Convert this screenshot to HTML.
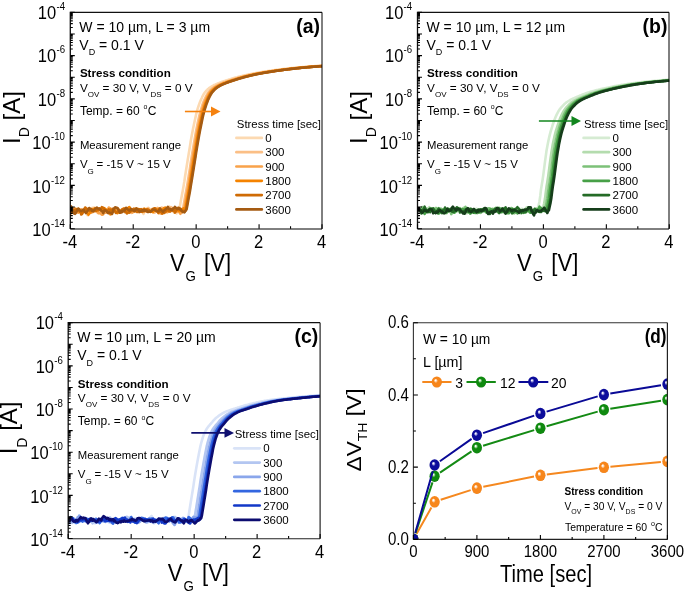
<!DOCTYPE html><html><head><meta charset="utf-8"><style>html,body{margin:0;padding:0;background:#fff}svg{display:block;will-change:transform}text{font-family:"Liberation Sans",sans-serif;fill:#000}</style></head><body>
<svg width="685" height="592" viewBox="0 0 685 592">
<rect width="685" height="592" fill="#fff"/>
<defs>
<radialGradient id="spo" cx="0.5" cy="0.5" r="0.55" fx="0.36" fy="0.34"><stop offset="0" stop-color="#ffffff"/><stop offset="0.08" stop-color="#ffffff" stop-opacity="0.9"/><stop offset="0.36" stop-color="#f7861b"/><stop offset="0.85" stop-color="#f7861b"/><stop offset="1" stop-color="#d86800"/></radialGradient>
<radialGradient id="spg" cx="0.5" cy="0.5" r="0.55" fx="0.36" fy="0.34"><stop offset="0" stop-color="#f0fff0"/><stop offset="0.08" stop-color="#f0fff0" stop-opacity="0.9"/><stop offset="0.36" stop-color="#0f8a0f"/><stop offset="0.85" stop-color="#0f8a0f"/><stop offset="1" stop-color="#066006"/></radialGradient>
<radialGradient id="spbl" cx="0.5" cy="0.5" r="0.55" fx="0.36" fy="0.34"><stop offset="0" stop-color="#f4f4ff"/><stop offset="0.08" stop-color="#f4f4ff" stop-opacity="0.9"/><stop offset="0.36" stop-color="#0c0c9c"/><stop offset="0.85" stop-color="#0c0c9c"/><stop offset="1" stop-color="#06066a"/></radialGradient>
</defs>
<clipPath id="clipa"><rect x="70.3" y="12.3" width="251.7" height="216.4"/></clipPath>
<g clip-path="url(#clipa)" fill="none" stroke-width="2.6" stroke-linejoin="round">
<polyline stroke="#fcd9b1" points="70.3,209.9 71.1,210.8 71.9,209.0 72.7,209.5 73.4,209.6 74.2,209.1 75.0,209.1 75.8,210.2 76.6,210.6 77.4,211.1 78.2,211.0 79.0,210.3 79.7,210.4 80.5,210.7 81.3,211.5 82.1,211.6 82.9,211.5 83.7,209.6 84.5,208.4 85.2,211.0 86.0,212.5 86.8,213.9 87.6,215.2 88.4,212.5 89.2,210.5 90.0,208.3 90.8,208.9 91.5,209.5 92.3,207.8 93.1,209.2 93.9,207.5 94.7,207.6 95.5,211.1 96.3,211.6 97.0,212.1 97.8,212.8 98.6,211.9 99.4,212.1 100.2,213.1 101.0,212.0 101.8,211.3 102.5,211.2 103.3,210.8 104.1,210.1 104.9,209.3 105.7,209.1 106.5,209.4 107.3,209.2 108.1,210.6 108.8,210.0 109.6,210.3 110.4,210.1 111.2,209.6 112.0,211.7 112.8,210.9 113.6,211.8 114.3,211.5 115.1,211.2 115.9,212.0 116.7,211.8 117.5,212.5 118.3,211.4 119.1,209.6 119.9,211.4 120.6,210.7 121.4,209.7 122.2,210.7 123.0,210.0 123.8,209.5 124.6,210.4 125.4,209.3 126.1,208.8 126.9,210.9 127.7,211.3 128.5,212.6 129.3,211.5 130.1,209.9 130.9,211.4 131.7,212.1 132.4,212.0 133.2,211.5 134.0,210.6 134.8,209.4 135.6,209.8 136.4,210.0 137.2,208.6 137.9,208.4 138.7,208.9 139.5,209.6 140.3,209.4 141.1,211.8 141.9,211.8 142.7,211.5 143.5,213.9 144.2,211.4 145.0,211.9 145.8,211.1 146.6,209.9 147.4,209.6 148.2,207.8 149.0,208.3 149.7,209.0 150.5,211.1 151.3,210.5 152.1,211.0 152.9,210.8 153.7,209.3 154.5,211.1 155.2,210.2 156.0,209.5 156.8,209.6 157.6,210.1 158.4,210.5 159.2,211.5 160.0,210.9 160.8,208.8 161.5,210.7 162.3,212.0 163.1,212.1 163.9,211.1 164.7,210.6 165.5,209.4 166.3,209.5 167.0,212.7 167.8,212.2 168.6,211.4 169.4,211.4 170.2,211.0 171.0,210.3 171.8,210.1 172.6,211.4 173.3,211.3 174.1,212.5 174.9,212.3 175.7,212.6 176.5,213.3 177.3,211.0 178.1,211.1 178.8,210.1 179.6,207.8 180.4,203.4 181.2,199.0 182.0,194.7 182.8,190.4 183.6,186.0 184.4,181.2 185.1,176.3 185.9,171.3 186.7,166.3 187.5,161.3 188.3,156.4 189.1,151.5 189.9,146.8 190.6,142.1 191.4,137.6 192.2,133.2 193.0,129.1 193.8,125.2 194.6,121.4 195.4,117.8 196.1,114.5 196.9,111.4 197.7,108.7 198.5,106.2 199.3,103.9 200.1,101.8 200.9,99.9 201.7,98.2 202.4,96.6 203.2,95.1 204.0,93.7 204.8,92.6 205.6,91.6 206.4,90.7 207.2,89.9 207.9,89.1 208.7,88.5 209.5,87.8 210.3,87.3 211.1,86.8 211.9,86.3 212.7,85.8 213.5,85.4 214.2,85.0 215.0,84.7 215.8,84.3 216.6,84.0 217.4,83.6 218.2,83.3 219.0,83.0 219.7,82.7 220.5,82.4 221.3,82.1 222.1,81.8 222.9,81.6 223.7,81.3 224.5,81.1 225.3,80.8 226.0,80.5 226.8,80.3 227.6,80.0 228.4,79.8 229.2,79.5 230.0,79.3 230.8,79.0 231.5,78.8 232.3,78.5 233.1,78.3 233.9,78.1 234.7,77.8 235.5,77.6 236.3,77.4 237.1,77.2 237.8,77.0 238.6,76.8 239.4,76.6 240.2,76.4 241.0,76.2 241.8,76.0 242.6,75.8 243.3,75.6 244.1,75.4 244.9,75.2 245.7,75.1 246.5,74.9 247.3,74.7 248.1,74.5 248.8,74.4 249.6,74.2 250.4,74.1 251.2,73.9 252.0,73.7 252.8,73.6 253.6,73.4 254.4,73.3 255.1,73.2 255.9,73.0 256.7,72.9 257.5,72.7 258.3,72.6 259.1,72.5 259.9,72.3 260.6,72.2 261.4,72.1 262.2,72.0 263.0,71.8 263.8,71.7 264.6,71.6 265.4,71.5 266.2,71.3 266.9,71.2 267.7,71.1 268.5,71.0 269.3,70.9 270.1,70.8 270.9,70.7 271.7,70.5 272.4,70.4 273.2,70.3 274.0,70.2 274.8,70.1 275.6,70.0 276.4,69.9 277.2,69.8 278.0,69.7 278.7,69.6 279.5,69.5 280.3,69.4 281.1,69.3 281.9,69.2 282.7,69.1 283.5,69.0 284.2,68.9 285.0,68.8 285.8,68.7 286.6,68.7 287.4,68.6 288.2,68.5 289.0,68.4 289.8,68.3 290.5,68.2 291.3,68.1 292.1,68.1 292.9,68.0 293.7,67.9 294.5,67.8 295.3,67.8 296.0,67.7 296.8,67.6 297.6,67.5 298.4,67.5 299.2,67.4 300.0,67.3 300.8,67.2 301.5,67.2 302.3,67.1 303.1,67.0 303.9,67.0 304.7,66.9 305.5,66.8 306.3,66.8 307.1,66.7 307.8,66.7 308.6,66.6 309.4,66.5 310.2,66.5 311.0,66.4 311.8,66.4 312.6,66.3 313.3,66.3 314.1,66.2 314.9,66.1 315.7,66.1 316.5,66.0 317.3,65.9 318.1,65.9 318.9,65.8 319.6,65.7 320.4,65.7 321.2,65.6 322.0,65.5"/>
<polyline stroke="#fbbf86" points="70.3,210.4 71.1,210.5 71.9,210.5 72.7,208.5 73.4,210.5 74.2,210.3 75.0,211.3 75.8,212.0 76.6,211.4 77.4,211.9 78.2,211.0 79.0,211.0 79.7,210.0 80.5,210.2 81.3,210.8 82.1,210.6 82.9,210.6 83.7,211.2 84.5,210.3 85.2,210.6 86.0,210.0 86.8,209.1 87.6,209.1 88.4,210.1 89.2,210.3 90.0,210.4 90.8,210.5 91.5,209.1 92.3,210.0 93.1,209.7 93.9,210.1 94.7,210.0 95.5,209.0 96.3,209.8 97.0,209.5 97.8,209.8 98.6,208.9 99.4,209.2 100.2,209.9 101.0,209.5 101.8,211.8 102.5,211.5 103.3,210.8 104.1,211.0 104.9,210.5 105.7,209.4 106.5,209.6 107.3,209.3 108.1,208.8 108.8,208.5 109.6,209.2 110.4,210.4 111.2,210.4 112.0,210.3 112.8,209.3 113.6,209.7 114.3,209.2 115.1,209.4 115.9,209.9 116.7,209.6 117.5,210.2 118.3,211.8 119.1,211.6 119.9,211.3 120.6,211.8 121.4,210.1 122.2,211.2 123.0,211.7 123.8,211.4 124.6,210.6 125.4,210.7 126.1,210.0 126.9,209.0 127.7,210.1 128.5,208.2 129.3,209.3 130.1,211.5 130.9,211.2 131.7,212.8 132.4,212.4 133.2,211.6 134.0,211.4 134.8,210.0 135.6,210.3 136.4,208.9 137.2,209.5 137.9,210.2 138.7,209.7 139.5,210.4 140.3,210.1 141.1,209.8 141.9,210.1 142.7,209.2 143.5,210.1 144.2,210.1 145.0,209.6 145.8,209.2 146.6,209.2 147.4,208.2 148.2,208.3 149.0,209.5 149.7,209.6 150.5,210.4 151.3,210.5 152.1,211.1 152.9,211.4 153.7,212.2 154.5,212.7 155.2,211.2 156.0,209.5 156.8,208.5 157.6,207.8 158.4,208.8 159.2,209.7 160.0,209.7 160.8,208.5 161.5,207.6 162.3,207.8 163.1,208.4 163.9,210.2 164.7,211.3 165.5,211.3 166.3,211.2 167.0,209.6 167.8,209.0 168.6,208.0 169.4,206.9 170.2,208.1 171.0,207.0 171.8,207.5 172.6,209.0 173.3,208.8 174.1,209.9 174.9,210.6 175.7,210.4 176.5,210.5 177.3,210.2 178.1,210.6 178.8,210.5 179.6,211.7 180.4,211.8 181.2,210.7 182.0,210.6 182.8,209.4 183.6,205.4 184.4,201.0 185.1,196.6 185.9,192.4 186.7,188.0 187.5,183.4 188.3,178.5 189.1,173.5 189.9,168.6 190.6,163.6 191.4,158.6 192.2,153.7 193.0,149.0 193.8,144.2 194.6,139.6 195.4,135.1 196.1,130.9 196.9,127.0 197.7,123.1 198.5,119.4 199.3,115.9 200.1,112.7 200.9,109.9 201.7,107.3 202.4,104.9 203.2,102.7 204.0,100.7 204.8,99.0 205.6,97.3 206.4,95.7 207.2,94.3 207.9,93.1 208.7,92.0 209.5,91.1 210.3,90.2 211.1,89.5 211.9,88.8 212.7,88.1 213.5,87.5 214.2,87.0 215.0,86.5 215.8,86.0 216.6,85.6 217.4,85.2 218.2,84.8 219.0,84.5 219.7,84.1 220.5,83.8 221.3,83.5 222.1,83.1 222.9,82.8 223.7,82.5 224.5,82.3 225.3,82.0 226.0,81.7 226.8,81.4 227.6,81.2 228.4,80.9 229.2,80.7 230.0,80.4 230.8,80.2 231.5,79.9 232.3,79.6 233.1,79.4 233.9,79.1 234.7,78.9 235.5,78.7 236.3,78.4 237.1,78.2 237.8,77.9 238.6,77.7 239.4,77.5 240.2,77.3 241.0,77.1 241.8,76.9 242.6,76.7 243.3,76.5 244.1,76.3 244.9,76.1 245.7,75.9 246.5,75.7 247.3,75.5 248.1,75.3 248.8,75.1 249.6,75.0 250.4,74.8 251.2,74.6 252.0,74.4 252.8,74.3 253.6,74.1 254.4,74.0 255.1,73.8 255.9,73.7 256.7,73.5 257.5,73.4 258.3,73.2 259.1,73.1 259.9,72.9 260.6,72.8 261.4,72.7 262.2,72.5 263.0,72.4 263.8,72.3 264.6,72.1 265.4,72.0 266.2,71.9 266.9,71.8 267.7,71.6 268.5,71.5 269.3,71.4 270.1,71.3 270.9,71.2 271.7,71.0 272.4,70.9 273.2,70.8 274.0,70.7 274.8,70.6 275.6,70.5 276.4,70.4 277.2,70.3 278.0,70.2 278.7,70.1 279.5,70.0 280.3,69.9 281.1,69.7 281.9,69.6 282.7,69.5 283.5,69.4 284.2,69.3 285.0,69.3 285.8,69.2 286.6,69.1 287.4,69.0 288.2,68.9 289.0,68.8 289.8,68.7 290.5,68.6 291.3,68.5 292.1,68.4 292.9,68.3 293.7,68.3 294.5,68.2 295.3,68.1 296.0,68.0 296.8,67.9 297.6,67.9 298.4,67.8 299.2,67.7 300.0,67.6 300.8,67.6 301.5,67.5 302.3,67.4 303.1,67.3 303.9,67.3 304.7,67.2 305.5,67.1 306.3,67.1 307.1,67.0 307.8,66.9 308.6,66.9 309.4,66.8 310.2,66.7 311.0,66.7 311.8,66.6 312.6,66.6 313.3,66.5 314.1,66.4 314.9,66.4 315.7,66.3 316.5,66.3 317.3,66.2 318.1,66.2 318.9,66.1 319.6,66.0 320.4,66.0 321.2,65.9 322.0,65.8"/>
<polyline stroke="#f9a24a" points="70.3,212.3 71.1,213.5 71.9,212.0 72.7,210.9 73.4,210.3 74.2,208.2 75.0,208.3 75.8,210.9 76.6,210.7 77.4,211.8 78.2,212.7 79.0,210.7 79.7,210.8 80.5,210.9 81.3,209.4 82.1,210.5 82.9,210.2 83.7,210.5 84.5,210.7 85.2,210.9 86.0,210.3 86.8,209.5 87.6,208.9 88.4,208.7 89.2,210.0 90.0,209.7 90.8,212.5 91.5,212.6 92.3,211.6 93.1,211.9 93.9,209.4 94.7,208.9 95.5,209.2 96.3,210.0 97.0,211.5 97.8,212.5 98.6,213.2 99.4,213.1 100.2,212.6 101.0,213.8 101.8,214.8 102.5,214.8 103.3,214.2 104.1,212.2 104.9,211.4 105.7,212.6 106.5,211.5 107.3,211.8 108.1,210.1 108.8,207.5 109.6,208.7 110.4,208.3 111.2,209.4 112.0,211.2 112.8,211.2 113.6,210.8 114.3,210.5 115.1,209.1 115.9,208.1 116.7,208.4 117.5,208.1 118.3,209.2 119.1,211.0 119.9,211.2 120.6,212.5 121.4,211.3 122.2,210.1 123.0,208.8 123.8,208.2 124.6,208.7 125.4,209.7 126.1,211.3 126.9,211.0 127.7,211.0 128.5,211.3 129.3,210.2 130.1,211.6 130.9,211.9 131.7,211.6 132.4,212.4 133.2,211.9 134.0,211.2 134.8,210.4 135.6,209.2 136.4,208.4 137.2,209.9 137.9,210.5 138.7,212.1 139.5,211.9 140.3,210.3 141.1,209.8 141.9,209.4 142.7,210.0 143.5,210.6 144.2,211.8 145.0,211.3 145.8,210.9 146.6,211.4 147.4,210.8 148.2,210.7 149.0,211.4 149.7,211.6 150.5,210.8 151.3,210.8 152.1,209.1 152.9,209.2 153.7,210.9 154.5,210.5 155.2,210.9 156.0,210.8 156.8,210.6 157.6,211.2 158.4,213.1 159.2,212.8 160.0,213.3 160.8,213.4 161.5,213.7 162.3,213.6 163.1,211.1 163.9,211.1 164.7,209.2 165.5,209.5 166.3,211.1 167.0,211.9 167.8,211.7 168.6,211.4 169.4,209.7 170.2,209.5 171.0,210.3 171.8,210.2 172.6,210.4 173.3,208.3 174.1,208.6 174.9,209.5 175.7,211.6 176.5,211.9 177.3,211.5 178.1,211.2 178.8,210.1 179.6,212.7 180.4,213.8 181.2,212.7 182.0,212.4 182.8,210.6 183.6,210.1 184.4,208.1 185.1,203.7 185.9,199.4 186.7,195.0 187.5,190.8 188.3,186.3 189.1,181.6 189.9,176.7 190.6,171.7 191.4,166.7 192.2,161.7 193.0,156.8 193.8,151.9 194.6,147.2 195.4,142.5 196.1,137.9 196.9,133.5 197.7,129.4 198.5,125.5 199.3,121.7 200.1,118.1 200.9,114.7 201.7,111.6 202.4,108.9 203.2,106.3 204.0,104.0 204.8,101.9 205.6,100.0 206.4,98.3 207.2,96.7 207.9,95.2 208.7,93.8 209.5,92.6 210.3,91.6 211.1,90.7 211.9,89.9 212.7,89.2 213.5,88.5 214.2,87.9 215.0,87.3 215.8,86.8 216.6,86.3 217.4,85.9 218.2,85.5 219.0,85.1 219.7,84.7 220.5,84.3 221.3,84.0 222.1,83.7 222.9,83.3 223.7,83.0 224.5,82.7 225.3,82.4 226.0,82.1 226.8,81.9 227.6,81.6 228.4,81.3 229.2,81.1 230.0,80.8 230.8,80.6 231.5,80.3 232.3,80.1 233.1,79.8 233.9,79.6 234.7,79.3 235.5,79.1 236.3,78.8 237.1,78.6 237.8,78.3 238.6,78.1 239.4,77.9 240.2,77.6 241.0,77.4 241.8,77.2 242.6,77.0 243.3,76.8 244.1,76.6 244.9,76.4 245.7,76.2 246.5,76.0 247.3,75.8 248.1,75.6 248.8,75.4 249.6,75.3 250.4,75.1 251.2,74.9 252.0,74.7 252.8,74.6 253.6,74.4 254.4,74.2 255.1,74.1 255.9,73.9 256.7,73.8 257.5,73.6 258.3,73.5 259.1,73.3 259.9,73.2 260.6,73.0 261.4,72.9 262.2,72.7 263.0,72.6 263.8,72.5 264.6,72.3 265.4,72.2 266.2,72.1 266.9,72.0 267.7,71.8 268.5,71.7 269.3,71.6 270.1,71.5 270.9,71.4 271.7,71.2 272.4,71.1 273.2,71.0 274.0,70.9 274.8,70.8 275.6,70.7 276.4,70.6 277.2,70.4 278.0,70.3 278.7,70.2 279.5,70.1 280.3,70.0 281.1,69.9 281.9,69.8 282.7,69.7 283.5,69.6 284.2,69.5 285.0,69.4 285.8,69.3 286.6,69.2 287.4,69.1 288.2,69.0 289.0,68.9 289.8,68.8 290.5,68.7 291.3,68.7 292.1,68.6 292.9,68.5 293.7,68.4 294.5,68.3 295.3,68.2 296.0,68.1 296.8,68.1 297.6,68.0 298.4,67.9 299.2,67.8 300.0,67.8 300.8,67.7 301.5,67.6 302.3,67.5 303.1,67.5 303.9,67.4 304.7,67.3 305.5,67.2 306.3,67.2 307.1,67.1 307.8,67.0 308.6,67.0 309.4,66.9 310.2,66.8 311.0,66.8 311.8,66.7 312.6,66.7 313.3,66.6 314.1,66.5 314.9,66.5 315.7,66.4 316.5,66.4 317.3,66.3 318.1,66.3 318.9,66.2 319.6,66.1 320.4,66.1 321.2,66.0 322.0,65.9"/>
<polyline stroke="#f58300" points="70.3,207.9 71.1,209.6 71.9,210.6 72.7,211.2 73.4,212.7 74.2,212.6 75.0,212.6 75.8,212.2 76.6,210.3 77.4,209.7 78.2,209.4 79.0,209.0 79.7,211.0 80.5,212.4 81.3,211.2 82.1,212.6 82.9,211.0 83.7,209.7 84.5,211.5 85.2,210.2 86.0,211.0 86.8,212.8 87.6,213.1 88.4,214.8 89.2,213.8 90.0,212.7 90.8,211.5 91.5,211.1 92.3,209.3 93.1,209.1 93.9,209.4 94.7,208.3 95.5,210.3 96.3,210.7 97.0,210.6 97.8,210.3 98.6,209.6 99.4,208.5 100.2,209.0 101.0,210.2 101.8,209.2 102.5,210.0 103.3,209.3 104.1,208.2 104.9,208.6 105.7,209.4 106.5,210.1 107.3,210.9 108.1,212.2 108.8,212.9 109.6,212.6 110.4,214.4 111.2,213.9 112.0,211.9 112.8,211.4 113.6,210.2 114.3,209.7 115.1,210.7 115.9,212.0 116.7,211.8 117.5,213.1 118.3,212.4 119.1,210.9 119.9,211.7 120.6,211.5 121.4,211.0 122.2,211.4 123.0,209.6 123.8,210.2 124.6,210.2 125.4,211.5 126.1,211.7 126.9,209.6 127.7,209.0 128.5,207.5 129.3,207.0 130.1,208.4 130.9,210.1 131.7,209.6 132.4,210.2 133.2,209.9 134.0,210.6 134.8,211.3 135.6,210.8 136.4,211.3 137.2,210.7 137.9,209.7 138.7,210.0 139.5,209.6 140.3,210.1 141.1,211.6 141.9,211.9 142.7,210.8 143.5,210.4 144.2,208.7 145.0,209.2 145.8,210.4 146.6,209.4 147.4,210.8 148.2,210.7 149.0,210.6 149.7,210.8 150.5,211.9 151.3,211.5 152.1,211.5 152.9,212.1 153.7,210.3 154.5,210.6 155.2,210.7 156.0,210.4 156.8,210.4 157.6,210.2 158.4,208.9 159.2,209.5 160.0,209.1 160.8,209.6 161.5,210.8 162.3,209.9 163.1,209.3 163.9,208.1 164.7,208.3 165.5,207.6 166.3,209.2 167.0,210.4 167.8,209.8 168.6,210.6 169.4,209.8 170.2,209.6 171.0,209.7 171.8,209.3 172.6,209.8 173.3,209.4 174.1,210.2 174.9,210.0 175.7,210.1 176.5,209.7 177.3,209.5 178.1,210.1 178.8,210.9 179.6,211.2 180.4,210.4 181.2,210.4 182.0,209.0 182.8,208.9 183.6,208.4 184.4,208.6 185.1,210.4 185.9,206.0 186.7,201.6 187.5,197.3 188.3,193.0 189.1,188.6 189.9,184.1 190.6,179.3 191.4,174.3 192.2,169.3 193.0,164.3 193.8,159.3 194.6,154.4 195.4,149.6 196.1,144.9 196.9,140.3 197.7,135.8 198.5,131.5 199.3,127.5 200.1,123.7 200.9,120.0 201.7,116.4 202.4,113.2 203.2,110.3 204.0,107.6 204.8,105.2 205.6,103.0 206.4,101.0 207.2,99.2 207.9,97.5 208.7,96.0 209.5,94.5 210.3,93.2 211.1,92.1 211.9,91.2 212.7,90.3 213.5,89.6 214.2,88.9 215.0,88.2 215.8,87.6 216.6,87.1 217.4,86.6 218.2,86.1 219.0,85.7 219.7,85.3 220.5,84.9 221.3,84.5 222.1,84.2 222.9,83.8 223.7,83.5 224.5,83.2 225.3,82.9 226.0,82.6 226.8,82.3 227.6,82.0 228.4,81.7 229.2,81.5 230.0,81.2 230.8,81.0 231.5,80.7 232.3,80.4 233.1,80.2 233.9,79.9 234.7,79.7 235.5,79.4 236.3,79.2 237.1,78.9 237.8,78.7 238.6,78.4 239.4,78.2 240.2,78.0 241.0,77.7 241.8,77.5 242.6,77.3 243.3,77.1 244.1,76.9 244.9,76.7 245.7,76.5 246.5,76.3 247.3,76.1 248.1,75.9 248.8,75.7 249.6,75.5 250.4,75.3 251.2,75.2 252.0,75.0 252.8,74.8 253.6,74.6 254.4,74.5 255.1,74.3 255.9,74.1 256.7,74.0 257.5,73.8 258.3,73.7 259.1,73.5 259.9,73.4 260.6,73.2 261.4,73.1 262.2,73.0 263.0,72.8 263.8,72.7 264.6,72.5 265.4,72.4 266.2,72.3 266.9,72.2 267.7,72.0 268.5,71.9 269.3,71.8 270.1,71.7 270.9,71.5 271.7,71.4 272.4,71.3 273.2,71.2 274.0,71.1 274.8,70.9 275.6,70.8 276.4,70.7 277.2,70.6 278.0,70.5 278.7,70.4 279.5,70.3 280.3,70.2 281.1,70.1 281.9,70.0 282.7,69.9 283.5,69.8 284.2,69.7 285.0,69.6 285.8,69.5 286.6,69.4 287.4,69.3 288.2,69.2 289.0,69.1 289.8,69.0 290.5,68.9 291.3,68.8 292.1,68.7 292.9,68.6 293.7,68.5 294.5,68.4 295.3,68.4 296.0,68.3 296.8,68.2 297.6,68.1 298.4,68.0 299.2,68.0 300.0,67.9 300.8,67.8 301.5,67.7 302.3,67.6 303.1,67.6 303.9,67.5 304.7,67.4 305.5,67.4 306.3,67.3 307.1,67.2 307.8,67.1 308.6,67.1 309.4,67.0 310.2,66.9 311.0,66.9 311.8,66.8 312.6,66.8 313.3,66.7 314.1,66.6 314.9,66.6 315.7,66.5 316.5,66.5 317.3,66.4 318.1,66.3 318.9,66.3 319.6,66.2 320.4,66.2 321.2,66.1 322.0,66.0"/>
<polyline stroke="#cf6b04" points="70.3,210.0 71.1,210.3 71.9,211.7 72.7,212.0 73.4,211.9 74.2,211.3 75.0,209.8 75.8,209.5 76.6,209.1 77.4,209.8 78.2,208.7 79.0,210.3 79.7,211.7 80.5,212.0 81.3,214.5 82.1,213.9 82.9,212.3 83.7,210.9 84.5,209.3 85.2,207.5 86.0,208.2 86.8,209.3 87.6,209.2 88.4,210.4 89.2,210.1 90.0,210.7 90.8,210.2 91.5,210.5 92.3,210.4 93.1,210.4 93.9,211.3 94.7,211.0 95.5,210.9 96.3,210.7 97.0,209.4 97.8,209.1 98.6,210.0 99.4,208.5 100.2,209.5 101.0,209.0 101.8,207.2 102.5,207.5 103.3,207.9 104.1,208.9 104.9,210.0 105.7,210.4 106.5,210.6 107.3,210.7 108.1,210.7 108.8,209.3 109.6,210.5 110.4,209.6 111.2,210.2 112.0,211.2 112.8,208.9 113.6,209.3 114.3,209.9 115.1,211.3 115.9,213.0 116.7,212.3 117.5,211.8 118.3,211.2 119.1,210.2 119.9,211.8 120.6,211.5 121.4,210.3 122.2,209.4 123.0,209.5 123.8,208.9 124.6,210.2 125.4,212.2 126.1,211.9 126.9,213.5 127.7,213.0 128.5,212.4 129.3,212.6 130.1,212.1 130.9,210.9 131.7,210.7 132.4,209.4 133.2,209.2 134.0,208.7 134.8,209.5 135.6,209.1 136.4,209.9 137.2,212.0 137.9,210.9 138.7,209.5 139.5,209.2 140.3,210.0 141.1,209.1 141.9,211.7 142.7,211.4 143.5,210.2 144.2,211.0 145.0,210.5 145.8,210.2 146.6,209.9 147.4,209.4 148.2,209.6 149.0,210.3 149.7,211.2 150.5,211.4 151.3,211.1 152.1,210.3 152.9,209.2 153.7,208.5 154.5,208.4 155.2,208.3 156.0,209.4 156.8,211.2 157.6,211.5 158.4,212.8 159.2,211.5 160.0,211.7 160.8,211.5 161.5,212.3 162.3,213.4 163.1,212.8 163.9,213.0 164.7,212.6 165.5,211.8 166.3,210.9 167.0,210.3 167.8,209.6 168.6,210.1 169.4,211.5 170.2,211.5 171.0,210.1 171.8,210.1 172.6,210.4 173.3,210.7 174.1,211.2 174.9,212.6 175.7,211.4 176.5,210.1 177.3,210.0 178.1,207.9 178.8,207.8 179.6,208.5 180.4,209.6 181.2,210.5 182.0,210.5 182.8,211.6 183.6,210.9 184.4,211.6 185.1,211.3 185.9,210.1 186.7,205.8 187.5,201.4 188.3,197.0 189.1,192.7 189.9,188.4 190.6,183.8 191.4,179.0 192.2,174.0 193.0,169.0 193.8,164.1 194.6,159.1 195.4,154.2 196.1,149.4 196.9,144.7 197.7,140.0 198.5,135.5 199.3,131.3 200.1,127.3 200.9,123.5 201.7,119.8 202.4,116.3 203.2,113.0 204.0,110.1 204.8,107.5 205.6,105.1 206.4,102.9 207.2,100.9 207.9,99.1 208.7,97.4 209.5,95.9 210.3,94.4 211.1,93.2 211.9,92.1 212.7,91.2 213.5,90.3 214.2,89.5 215.0,88.8 215.8,88.2 216.6,87.6 217.4,87.0 218.2,86.5 219.0,86.1 219.7,85.6 220.5,85.2 221.3,84.9 222.1,84.5 222.9,84.2 223.7,83.8 224.5,83.5 225.3,83.2 226.0,82.9 226.8,82.6 227.6,82.3 228.4,82.0 229.2,81.7 230.0,81.5 230.8,81.2 231.5,80.9 232.3,80.7 233.1,80.4 233.9,80.2 234.7,79.9 235.5,79.7 236.3,79.4 237.1,79.2 237.8,78.9 238.6,78.7 239.4,78.4 240.2,78.2 241.0,78.0 241.8,77.7 242.6,77.5 243.3,77.3 244.1,77.1 244.9,76.9 245.7,76.7 246.5,76.5 247.3,76.3 248.1,76.1 248.8,75.9 249.6,75.7 250.4,75.5 251.2,75.3 252.0,75.2 252.8,75.0 253.6,74.8 254.4,74.6 255.1,74.5 255.9,74.3 256.7,74.1 257.5,74.0 258.3,73.8 259.1,73.7 259.9,73.5 260.6,73.4 261.4,73.2 262.2,73.1 263.0,72.9 263.8,72.8 264.6,72.7 265.4,72.5 266.2,72.4 266.9,72.3 267.7,72.1 268.5,72.0 269.3,71.9 270.1,71.8 270.9,71.6 271.7,71.5 272.4,71.4 273.2,71.3 274.0,71.2 274.8,71.1 275.6,70.9 276.4,70.8 277.2,70.7 278.0,70.6 278.7,70.5 279.5,70.4 280.3,70.3 281.1,70.2 281.9,70.1 282.7,70.0 283.5,69.9 284.2,69.8 285.0,69.7 285.8,69.6 286.6,69.5 287.4,69.4 288.2,69.3 289.0,69.2 289.8,69.1 290.5,69.0 291.3,68.9 292.1,68.8 292.9,68.7 293.7,68.6 294.5,68.5 295.3,68.4 296.0,68.4 296.8,68.3 297.6,68.2 298.4,68.1 299.2,68.0 300.0,67.9 300.8,67.9 301.5,67.8 302.3,67.7 303.1,67.6 303.9,67.6 304.7,67.5 305.5,67.4 306.3,67.4 307.1,67.3 307.8,67.2 308.6,67.1 309.4,67.1 310.2,67.0 311.0,66.9 311.8,66.9 312.6,66.8 313.3,66.8 314.1,66.7 314.9,66.6 315.7,66.6 316.5,66.5 317.3,66.5 318.1,66.4 318.9,66.3 319.6,66.3 320.4,66.2 321.2,66.2 322.0,66.1"/>
<polyline stroke="#a55b12" points="70.3,207.8 71.1,206.4 71.9,207.6 72.7,210.4 73.4,211.5 74.2,213.6 75.0,213.9 75.8,213.0 76.6,211.4 77.4,209.9 78.2,208.9 79.0,209.0 79.7,210.3 80.5,210.7 81.3,211.0 82.1,210.5 82.9,209.8 83.7,209.9 84.5,211.3 85.2,212.2 86.0,213.0 86.8,211.8 87.6,210.8 88.4,209.6 89.2,208.0 90.0,208.9 90.8,208.9 91.5,209.6 92.3,211.2 93.1,211.2 93.9,210.2 94.7,209.6 95.5,208.4 96.3,208.2 97.0,207.6 97.8,208.4 98.6,208.8 99.4,208.8 100.2,209.3 101.0,210.5 101.8,211.0 102.5,211.6 103.3,213.1 104.1,210.9 104.9,210.4 105.7,210.5 106.5,211.0 107.3,212.4 108.1,213.2 108.8,212.6 109.6,212.4 110.4,212.9 111.2,213.2 112.0,213.9 112.8,211.9 113.6,208.9 114.3,208.2 115.1,207.2 115.9,207.4 116.7,208.2 117.5,208.0 118.3,209.5 119.1,210.7 119.9,212.8 120.6,212.6 121.4,211.2 122.2,212.1 123.0,210.9 123.8,210.9 124.6,210.6 125.4,208.4 126.1,207.8 126.9,208.5 127.7,209.6 128.5,209.7 129.3,210.6 130.1,210.2 130.9,208.9 131.7,209.6 132.4,210.1 133.2,210.3 134.0,210.9 134.8,211.1 135.6,209.4 136.4,208.4 137.2,209.2 137.9,209.4 138.7,210.3 139.5,212.0 140.3,211.3 141.1,211.0 141.9,210.5 142.7,210.0 143.5,210.9 144.2,209.5 145.0,210.7 145.8,210.6 146.6,210.5 147.4,212.0 148.2,212.0 149.0,211.6 149.7,211.6 150.5,211.7 151.3,210.8 152.1,210.3 152.9,209.6 153.7,209.8 154.5,209.7 155.2,210.3 156.0,210.7 156.8,211.3 157.6,211.2 158.4,211.2 159.2,210.0 160.0,208.4 160.8,209.6 161.5,210.4 162.3,210.8 163.1,211.8 163.9,210.6 164.7,209.9 165.5,209.2 166.3,208.6 167.0,208.0 167.8,206.9 168.6,208.7 169.4,208.9 170.2,208.9 171.0,209.8 171.8,210.1 172.6,209.1 173.3,208.3 174.1,208.4 174.9,206.8 175.7,207.7 176.5,208.5 177.3,208.7 178.1,208.7 178.8,208.2 179.6,209.2 180.4,208.9 181.2,210.2 182.0,211.3 182.8,211.9 183.6,212.1 184.4,212.4 185.1,211.3 185.9,210.3 186.7,208.8 187.5,204.5 188.3,200.1 189.1,195.7 189.9,191.5 190.6,187.1 191.4,182.4 192.2,177.5 193.0,172.5 193.8,167.5 194.6,162.6 195.4,157.6 196.1,152.7 196.9,148.0 197.7,143.3 198.5,138.7 199.3,134.2 200.1,130.1 200.9,126.2 201.7,122.3 202.4,118.7 203.2,115.3 204.0,112.1 204.8,109.3 205.6,106.8 206.4,104.4 207.2,102.3 207.9,100.3 208.7,98.6 209.5,97.0 210.3,95.4 211.1,94.0 211.9,92.8 212.7,91.8 213.5,90.9 214.2,90.1 215.0,89.3 215.8,88.6 216.6,88.0 217.4,87.4 218.2,86.9 219.0,86.4 219.7,85.9 220.5,85.5 221.3,85.1 222.1,84.8 222.9,84.4 223.7,84.1 224.5,83.7 225.3,83.4 226.0,83.1 226.8,82.8 227.6,82.5 228.4,82.2 229.2,81.9 230.0,81.6 230.8,81.4 231.5,81.1 232.3,80.9 233.1,80.6 233.9,80.4 234.7,80.1 235.5,79.8 236.3,79.6 237.1,79.3 237.8,79.1 238.6,78.8 239.4,78.6 240.2,78.4 241.0,78.1 241.8,77.9 242.6,77.7 243.3,77.4 244.1,77.2 244.9,77.0 245.7,76.8 246.5,76.6 247.3,76.4 248.1,76.2 248.8,76.0 249.6,75.8 250.4,75.6 251.2,75.5 252.0,75.3 252.8,75.1 253.6,74.9 254.4,74.8 255.1,74.6 255.9,74.4 256.7,74.3 257.5,74.1 258.3,73.9 259.1,73.8 259.9,73.6 260.6,73.5 261.4,73.3 262.2,73.2 263.0,73.0 263.8,72.9 264.6,72.8 265.4,72.6 266.2,72.5 266.9,72.4 267.7,72.2 268.5,72.1 269.3,72.0 270.1,71.9 270.9,71.7 271.7,71.6 272.4,71.5 273.2,71.4 274.0,71.3 274.8,71.1 275.6,71.0 276.4,70.9 277.2,70.8 278.0,70.7 278.7,70.6 279.5,70.5 280.3,70.4 281.1,70.3 281.9,70.1 282.7,70.0 283.5,69.9 284.2,69.8 285.0,69.7 285.8,69.6 286.6,69.5 287.4,69.4 288.2,69.3 289.0,69.2 289.8,69.1 290.5,69.0 291.3,68.9 292.1,68.9 292.9,68.8 293.7,68.7 294.5,68.6 295.3,68.5 296.0,68.4 296.8,68.3 297.6,68.2 298.4,68.2 299.2,68.1 300.0,68.0 300.8,67.9 301.5,67.8 302.3,67.8 303.1,67.7 303.9,67.6 304.7,67.5 305.5,67.5 306.3,67.4 307.1,67.3 307.8,67.3 308.6,67.2 309.4,67.1 310.2,67.1 311.0,67.0 311.8,66.9 312.6,66.9 313.3,66.8 314.1,66.7 314.9,66.7 315.7,66.6 316.5,66.6 317.3,66.5 318.1,66.4 318.9,66.4 319.6,66.3 320.4,66.3 321.2,66.2 322.0,66.2"/>
</g>
<path d="M70.3 229V12.3H322" stroke="#111" stroke-width="1.3" fill="none"/>
<path d="M70.3 229H322" stroke="#000" stroke-width="1.0" fill="none"/>
<path d="M322 12.3V229" stroke="#000" stroke-width="1.0" fill="none"/>
<path d="M70.3 228.7h4.5 M70.3 222.19h2.5 M70.3 218.38h2.5 M70.3 215.67h2.5 M70.3 213.57h2.5 M70.3 211.86h2.5 M70.3 210.41h2.5 M70.3 209.16h2.5 M70.3 208.05h2.5 M70.3 207.06h4.5 M70.3 200.55h2.5 M70.3 196.74h2.5 M70.3 194.03h2.5 M70.3 191.93h2.5 M70.3 190.22h2.5 M70.3 188.77h2.5 M70.3 187.52h2.5 M70.3 186.41h2.5 M70.3 185.42h4.5 M70.3 178.91h2.5 M70.3 175.1h2.5 M70.3 172.39h2.5 M70.3 170.29h2.5 M70.3 168.58h2.5 M70.3 167.13h2.5 M70.3 165.88h2.5 M70.3 164.77h2.5 M70.3 163.78h4.5 M70.3 157.27h2.5 M70.3 153.46h2.5 M70.3 150.75h2.5 M70.3 148.65h2.5 M70.3 146.94h2.5 M70.3 145.49h2.5 M70.3 144.24h2.5 M70.3 143.13h2.5 M70.3 142.14h4.5 M70.3 135.63h2.5 M70.3 131.82h2.5 M70.3 129.11h2.5 M70.3 127.01h2.5 M70.3 125.3h2.5 M70.3 123.85h2.5 M70.3 122.6h2.5 M70.3 121.49h2.5 M70.3 120.5h4.5 M70.3 113.99h2.5 M70.3 110.18h2.5 M70.3 107.47h2.5 M70.3 105.37h2.5 M70.3 103.66h2.5 M70.3 102.21h2.5 M70.3 100.96h2.5 M70.3 99.85h2.5 M70.3 98.86h4.5 M70.3 92.35h2.5 M70.3 88.54h2.5 M70.3 85.83h2.5 M70.3 83.73h2.5 M70.3 82.02h2.5 M70.3 80.57h2.5 M70.3 79.32h2.5 M70.3 78.21h2.5 M70.3 77.22h4.5 M70.3 70.71h2.5 M70.3 66.9h2.5 M70.3 64.19h2.5 M70.3 62.09h2.5 M70.3 60.38h2.5 M70.3 58.93h2.5 M70.3 57.68h2.5 M70.3 56.57h2.5 M70.3 55.58h4.5 M70.3 49.07h2.5 M70.3 45.26h2.5 M70.3 42.55h2.5 M70.3 40.45h2.5 M70.3 38.74h2.5 M70.3 37.29h2.5 M70.3 36.04h2.5 M70.3 34.93h2.5 M70.3 33.94h4.5 M70.3 27.43h2.5 M70.3 23.62h2.5 M70.3 20.91h2.5 M70.3 18.81h2.5 M70.3 17.1h2.5 M70.3 15.65h2.5 M70.3 14.4h2.5 M70.3 13.29h2.5 M70.3 12.3h4.5 M70.3 228.7v-4.5 M101.76 228.7v-2.5 M133.22 228.7v-4.5 M164.69 228.7v-2.5 M196.15 228.7v-4.5 M227.61 228.7v-2.5 M259.07 228.7v-4.5 M290.54 228.7v-2.5 M322 228.7v-4.5" stroke="#000" stroke-width="1.1" fill="none"/>
<text transform="translate(65,19) scale(0.92,1)" text-anchor="end" font-size="18">10<tspan font-size="10.5" dy="-9" dx="0.3">-4</tspan></text>
<text transform="translate(65,62.48) scale(0.92,1)" text-anchor="end" font-size="18">10<tspan font-size="10.5" dy="-9" dx="0.3">-6</tspan></text>
<text transform="translate(65,105.96) scale(0.92,1)" text-anchor="end" font-size="18">10<tspan font-size="10.5" dy="-9" dx="0.3">-8</tspan></text>
<text transform="translate(65,149.44) scale(0.92,1)" text-anchor="end" font-size="18">10<tspan font-size="10.5" dy="-9" dx="0.3">-10</tspan></text>
<text transform="translate(65,192.92) scale(0.92,1)" text-anchor="end" font-size="18">10<tspan font-size="10.5" dy="-9" dx="0.3">-12</tspan></text>
<text transform="translate(65,236.4) scale(0.92,1)" text-anchor="end" font-size="18">10<tspan font-size="10.5" dy="-9" dx="0.3">-14</tspan></text>
<text transform="translate(69.9,247.7) scale(0.92,1)" text-anchor="middle" font-size="18">-4</text>
<text transform="translate(132.82,247.7) scale(0.92,1)" text-anchor="middle" font-size="18">-2</text>
<text transform="translate(195.75,247.7) scale(0.92,1)" text-anchor="middle" font-size="18">0</text>
<text transform="translate(258.68,247.7) scale(0.92,1)" text-anchor="middle" font-size="18">2</text>
<text transform="translate(321.6,247.7) scale(0.92,1)" text-anchor="middle" font-size="18">4</text>
<text transform="translate(19.5,117.5) rotate(-90)" text-anchor="middle" font-size="24">I<tspan font-size="14" dy="9.4">D</tspan><tspan dy="-9.4"> [A]</tspan></text>
<text transform="translate(169.9,271.3) scale(0.92,1)" font-size="24">V</text>
<text transform="translate(185.6,281.1) scale(0.92,1)" font-size="14.5">G</text>
<text transform="translate(204.1,271.3) scale(0.92,1)" font-size="24">[V]</text>
<text x="79.3" y="31.8" font-size="14">W = 10 µm, L = 3 µm</text>
<text x="79.3" y="49.8" font-size="14">V<tspan font-size="9" dy="5.5">D</tspan><tspan dy="-5.5"> = 0.1 V</tspan></text>
<text x="79.9" y="77.2" font-size="11.6" font-weight="bold">Stress condition</text>
<text x="79.9" y="91.9" font-size="11.8">V<tspan font-size="8" dy="5">OV</tspan><tspan dy="-5"> = 30 V, V</tspan><tspan font-size="8" dy="5">DS</tspan><tspan dy="-5"> = 0 V</tspan></text>
<text x="79.9" y="114.8" font-size="12">Temp. = 60 <tspan font-size="7" dy="-5.5" dx="0.6">o</tspan><tspan dy="5.5" dx="0.2">C</tspan></text>
<text x="79.9" y="148.6" font-size="11.3">Measurement range</text>
<text x="79.9" y="167.9" font-size="11.5">V<tspan font-size="8" dy="6">G</tspan><tspan dy="-6" dx="-0.5"> = -15 V ~ 15 V</tspan></text>
<text transform="translate(320.1,32.6) scale(0.95,1)" text-anchor="end" font-size="20.5" font-weight="bold">(a)</text>
<line x1="184.9" y1="111.5" x2="212.5" y2="111.5" stroke="#f5820f" stroke-width="1.6"/>
<path d="M220.5 111.5L211 106.6L211 116.4Z" fill="#f5820f"/>
<text x="236.8" y="127.8" font-size="11.4">Stress time [sec]</text>
<line x1="236.4" y1="137.9" x2="261.8" y2="137.9" stroke="#fcd9b1" stroke-width="2.7" stroke-linecap="round"/>
<text x="265.3" y="142" font-size="11.5">0</text>
<line x1="236.4" y1="152.2" x2="261.8" y2="152.2" stroke="#fbbf86" stroke-width="2.7" stroke-linecap="round"/>
<text x="265.3" y="156.3" font-size="11.5">300</text>
<line x1="236.4" y1="166.5" x2="261.8" y2="166.5" stroke="#f9a24a" stroke-width="2.7" stroke-linecap="round"/>
<text x="265.3" y="170.6" font-size="11.5">900</text>
<line x1="236.4" y1="180.8" x2="261.8" y2="180.8" stroke="#f58300" stroke-width="2.7" stroke-linecap="round"/>
<text x="265.3" y="184.9" font-size="11.5">1800</text>
<line x1="236.4" y1="195.1" x2="261.8" y2="195.1" stroke="#cf6b04" stroke-width="2.7" stroke-linecap="round"/>
<text x="265.3" y="199.2" font-size="11.5">2700</text>
<line x1="236.4" y1="209.4" x2="261.8" y2="209.4" stroke="#a55b12" stroke-width="2.7" stroke-linecap="round"/>
<text x="265.3" y="213.5" font-size="11.5">3600</text>
<clipPath id="clipb"><rect x="417.5" y="12.3" width="251.8" height="216.4"/></clipPath>
<g clip-path="url(#clipb)" fill="none" stroke-width="2.6" stroke-linejoin="round">
<polyline stroke="#d5ebd2" points="417.5,210.2 418.3,210.2 419.1,207.9 419.9,209.0 420.6,210.2 421.4,209.3 422.2,210.0 423.0,210.5 423.8,210.6 424.6,211.0 425.4,210.8 426.2,210.2 426.9,210.1 427.7,210.3 428.5,210.9 429.3,210.7 430.1,210.1 430.9,210.0 431.7,209.1 432.5,210.4 433.2,209.9 434.0,208.7 434.8,210.2 435.6,210.7 436.4,212.3 437.2,213.2 438.0,211.9 438.7,209.9 439.5,208.3 440.3,208.8 441.1,208.7 441.9,209.6 442.7,209.5 443.5,210.4 444.3,210.9 445.0,210.6 445.8,210.0 446.6,209.7 447.4,210.2 448.2,210.7 449.0,211.3 449.8,210.9 450.5,209.2 451.3,210.2 452.1,210.1 452.9,209.2 453.7,211.1 454.5,209.7 455.3,209.6 456.1,210.3 456.8,208.6 457.6,207.0 458.4,207.7 459.2,207.9 460.0,209.2 460.8,210.4 461.6,210.7 462.4,210.7 463.1,210.2 463.9,210.2 464.7,210.8 465.5,211.8 466.3,213.4 467.1,213.0 467.9,212.2 468.6,210.1 469.4,208.3 470.2,209.7 471.0,209.4 471.8,210.6 472.6,211.4 473.4,211.5 474.2,210.6 474.9,210.3 475.7,209.1 476.5,208.7 477.3,210.4 478.1,210.1 478.9,210.4 479.7,210.8 480.4,210.4 481.2,211.7 482.0,211.4 482.8,210.1 483.6,210.6 484.4,209.0 485.2,209.6 486.0,210.3 486.7,210.3 487.5,211.4 488.3,210.9 489.1,211.3 489.9,211.2 490.7,211.6 491.5,212.2 492.3,213.0 493.0,212.7 493.8,211.9 494.6,210.7 495.4,209.1 496.2,207.2 497.0,207.2 497.8,208.2 498.5,207.3 499.3,209.8 500.1,209.4 500.9,209.7 501.7,210.8 502.5,211.4 503.3,211.5 504.1,210.9 504.8,211.9 505.6,209.3 506.4,209.4 507.2,209.2 508.0,209.1 508.8,210.3 509.6,210.9 510.4,210.5 511.1,209.4 511.9,209.8 512.7,210.1 513.5,211.0 514.3,212.5 515.1,212.4 515.9,212.1 516.6,211.3 517.4,209.4 518.2,209.5 519.0,209.1 519.8,209.9 520.6,209.3 521.4,208.8 522.2,208.8 522.9,209.2 523.7,211.2 524.5,211.0 525.3,211.7 526.1,210.8 526.9,211.3 527.7,211.0 528.4,211.3 529.2,210.4 530.0,209.5 530.8,209.2 531.6,209.5 532.4,210.4 533.2,210.8 534.0,212.0 534.7,211.0 535.5,211.5 536.3,210.7 537.1,209.8 537.9,208.9 538.7,205.0 539.5,201.2 540.3,195.7 541.0,189.5 541.8,184.6 542.6,179.7 543.4,174.1 544.2,167.9 545.0,161.7 545.8,155.8 546.5,150.7 547.3,146.4 548.1,142.3 548.9,138.5 549.7,135.1 550.5,132.0 551.3,129.4 552.1,126.9 552.8,124.5 553.6,122.2 554.4,120.0 555.2,118.0 556.0,116.1 556.8,114.4 557.6,112.8 558.4,111.4 559.1,110.2 559.9,109.1 560.7,108.1 561.5,107.2 562.3,106.3 563.1,105.4 563.9,104.7 564.6,103.9 565.4,103.3 566.2,102.6 567.0,102.0 567.8,101.5 568.6,101.0 569.4,100.5 570.2,100.0 570.9,99.6 571.7,99.2 572.5,98.8 573.3,98.4 574.1,98.1 574.9,97.8 575.7,97.4 576.4,97.1 577.2,96.8 578.0,96.5 578.8,96.1 579.6,95.8 580.4,95.5 581.2,95.2 582.0,94.8 582.7,94.5 583.5,94.2 584.3,93.9 585.1,93.6 585.9,93.3 586.7,93.1 587.5,92.8 588.3,92.5 589.0,92.3 589.8,92.0 590.6,91.8 591.4,91.6 592.2,91.4 593.0,91.1 593.8,90.9 594.5,90.7 595.3,90.5 596.1,90.3 596.9,90.1 597.7,89.9 598.5,89.7 599.3,89.5 600.1,89.3 600.8,89.1 601.6,88.9 602.4,88.8 603.2,88.6 604.0,88.4 604.8,88.2 605.6,88.1 606.3,87.9 607.1,87.7 607.9,87.6 608.7,87.4 609.5,87.2 610.3,87.1 611.1,86.9 611.9,86.7 612.6,86.6 613.4,86.4 614.2,86.3 615.0,86.1 615.8,86.0 616.6,85.8 617.4,85.7 618.2,85.5 618.9,85.4 619.7,85.2 620.5,85.1 621.3,84.9 622.1,84.8 622.9,84.7 623.7,84.6 624.4,84.4 625.2,84.3 626.0,84.2 626.8,84.1 627.6,83.9 628.4,83.8 629.2,83.7 630.0,83.6 630.7,83.5 631.5,83.4 632.3,83.3 633.1,83.2 633.9,83.1 634.7,83.0 635.5,82.9 636.3,82.8 637.0,82.7 637.8,82.6 638.6,82.5 639.4,82.4 640.2,82.3 641.0,82.2 641.8,82.1 642.5,82.1 643.3,82.0 644.1,81.9 644.9,81.8 645.7,81.7 646.5,81.6 647.3,81.6 648.1,81.5 648.8,81.4 649.6,81.3 650.4,81.3 651.2,81.2 652.0,81.1 652.8,81.1 653.6,81.0 654.3,80.9 655.1,80.9 655.9,80.8 656.7,80.8 657.5,80.7 658.3,80.6 659.1,80.6 659.9,80.5 660.6,80.4 661.4,80.3 662.2,80.2 663.0,80.1 663.8,80.0 664.6,80.0 665.4,79.9 666.2,79.8 666.9,79.7 667.7,79.6 668.5,79.5 669.3,79.5"/>
<polyline stroke="#b4dcae" points="417.5,211.5 418.3,210.0 419.1,210.4 419.9,210.9 420.6,210.3 421.4,210.4 422.2,208.3 423.0,208.6 423.8,209.8 424.6,211.0 425.4,211.5 426.2,211.4 426.9,210.0 427.7,208.5 428.5,208.2 429.3,207.2 430.1,208.2 430.9,208.3 431.7,208.7 432.5,210.5 433.2,209.2 434.0,208.5 434.8,208.6 435.6,207.9 436.4,208.7 437.2,210.3 438.0,211.0 438.7,211.3 439.5,211.4 440.3,211.0 441.1,210.8 441.9,209.6 442.7,210.5 443.5,209.5 444.3,211.2 445.0,213.5 445.8,212.7 446.6,213.3 447.4,211.6 448.2,211.2 449.0,211.2 449.8,211.1 450.5,210.5 451.3,209.4 452.1,209.0 452.9,209.8 453.7,210.8 454.5,211.1 455.3,210.9 456.1,211.0 456.8,211.4 457.6,210.7 458.4,209.9 459.2,209.0 460.0,208.1 460.8,208.8 461.6,209.3 462.4,209.2 463.1,208.2 463.9,207.7 464.7,209.1 465.5,209.9 466.3,211.8 467.1,213.0 467.9,211.4 468.6,210.4 469.4,210.6 470.2,208.5 471.0,209.2 471.8,210.4 472.6,209.3 473.4,210.6 474.2,211.3 474.9,212.0 475.7,212.3 476.5,212.0 477.3,213.3 478.1,211.5 478.9,211.1 479.7,211.6 480.4,209.7 481.2,210.3 482.0,211.4 482.8,211.3 483.6,210.4 484.4,211.2 485.2,210.5 486.0,210.1 486.7,211.5 487.5,210.8 488.3,212.0 489.1,212.7 489.9,212.2 490.7,211.7 491.5,211.3 492.3,208.5 493.0,208.9 493.8,209.1 494.6,208.6 495.4,211.1 496.2,209.7 497.0,210.2 497.8,209.1 498.5,208.0 499.3,209.6 500.1,208.6 500.9,210.0 501.7,208.8 502.5,208.4 503.3,209.8 504.1,210.7 504.8,213.5 505.6,213.7 506.4,213.7 507.2,213.2 508.0,212.8 508.8,212.5 509.6,210.8 510.4,211.1 511.1,211.0 511.9,211.6 512.7,213.7 513.5,213.3 514.3,213.6 515.1,212.4 515.9,211.5 516.6,211.0 517.4,209.9 518.2,210.2 519.0,210.2 519.8,209.6 520.6,210.6 521.4,210.3 522.2,209.8 522.9,210.4 523.7,210.7 524.5,210.1 525.3,210.3 526.1,207.9 526.9,207.5 527.7,207.9 528.4,208.3 529.2,210.3 530.0,209.2 530.8,210.4 531.6,210.2 532.4,210.2 533.2,210.7 534.0,209.8 534.7,209.0 535.5,208.5 536.3,208.4 537.1,209.0 537.9,210.6 538.7,211.7 539.5,212.2 540.3,211.5 541.0,211.0 541.8,211.3 542.6,210.5 543.4,207.0 544.2,203.3 545.0,198.8 545.8,192.5 546.5,187.0 547.3,182.3 548.1,177.0 548.9,171.1 549.7,164.9 550.5,158.8 551.3,153.2 552.1,148.5 552.8,144.3 553.6,140.4 554.4,136.8 555.2,133.6 556.0,130.7 556.8,128.1 557.6,125.7 558.4,123.3 559.1,121.1 559.9,119.0 560.7,117.1 561.5,115.3 562.3,113.6 563.1,112.1 563.9,110.8 564.6,109.7 565.4,108.6 566.2,107.6 567.0,106.7 567.8,105.9 568.6,105.0 569.4,104.3 570.2,103.6 570.9,102.9 571.7,102.3 572.5,101.8 573.3,101.2 574.1,100.7 574.9,100.2 575.7,99.8 576.4,99.4 577.2,99.0 578.0,98.6 578.8,98.3 579.6,97.9 580.4,97.6 581.2,97.3 582.0,97.0 582.7,96.6 583.5,96.3 584.3,96.0 585.1,95.7 585.9,95.3 586.7,95.0 587.5,94.7 588.3,94.4 589.0,94.1 589.8,93.8 590.6,93.5 591.4,93.2 592.2,92.9 593.0,92.7 593.8,92.4 594.5,92.2 595.3,91.9 596.1,91.7 596.9,91.5 597.7,91.3 598.5,91.0 599.3,90.8 600.1,90.6 600.8,90.4 601.6,90.2 602.4,90.0 603.2,89.8 604.0,89.6 604.8,89.4 605.6,89.2 606.3,89.0 607.1,88.9 607.9,88.7 608.7,88.5 609.5,88.3 610.3,88.2 611.1,88.0 611.9,87.8 612.6,87.6 613.4,87.5 614.2,87.3 615.0,87.1 615.8,87.0 616.6,86.8 617.4,86.7 618.2,86.5 618.9,86.3 619.7,86.2 620.5,86.0 621.3,85.9 622.1,85.7 622.9,85.6 623.7,85.4 624.4,85.3 625.2,85.2 626.0,85.0 626.8,84.9 627.6,84.7 628.4,84.6 629.2,84.5 630.0,84.4 630.7,84.2 631.5,84.1 632.3,84.0 633.1,83.9 633.9,83.8 634.7,83.7 635.5,83.6 636.3,83.5 637.0,83.4 637.8,83.3 638.6,83.2 639.4,83.1 640.2,83.0 641.0,82.9 641.8,82.8 642.5,82.7 643.3,82.6 644.1,82.5 644.9,82.4 645.7,82.3 646.5,82.2 647.3,82.1 648.1,82.0 648.8,81.9 649.6,81.8 650.4,81.8 651.2,81.7 652.0,81.6 652.8,81.5 653.6,81.4 654.3,81.4 655.1,81.3 655.9,81.2 656.7,81.2 657.5,81.1 658.3,81.0 659.1,81.0 659.9,80.9 660.6,80.8 661.4,80.8 662.2,80.7 663.0,80.7 663.8,80.6 664.6,80.5 665.4,80.4 666.2,80.3 666.9,80.3 667.7,80.2 668.5,80.1 669.3,80.0"/>
<polyline stroke="#7cc178" points="417.5,209.4 418.3,209.8 419.1,209.8 419.9,209.8 420.6,209.3 421.4,208.5 422.2,207.1 423.0,209.4 423.8,210.4 424.6,210.0 425.4,212.1 426.2,211.6 426.9,211.1 427.7,210.8 428.5,209.9 429.3,209.2 430.1,208.6 430.9,209.7 431.7,210.2 432.5,210.4 433.2,211.8 434.0,210.6 434.8,209.6 435.6,210.1 436.4,208.2 437.2,209.4 438.0,209.2 438.7,208.2 439.5,209.3 440.3,208.9 441.1,208.8 441.9,209.3 442.7,210.8 443.5,211.1 444.3,211.6 445.0,211.7 445.8,210.6 446.6,210.9 447.4,209.9 448.2,208.7 449.0,210.3 449.8,209.8 450.5,211.2 451.3,214.1 452.1,212.3 452.9,212.7 453.7,212.5 454.5,211.2 455.3,210.7 456.1,209.4 456.8,209.0 457.6,208.0 458.4,208.9 459.2,209.6 460.0,210.3 460.8,210.8 461.6,211.2 462.4,211.0 463.1,209.9 463.9,209.8 464.7,208.5 465.5,206.9 466.3,208.9 467.1,209.1 467.9,210.3 468.6,212.5 469.4,211.9 470.2,211.9 471.0,211.7 471.8,211.8 472.6,211.1 473.4,211.5 474.2,212.9 474.9,211.8 475.7,211.8 476.5,212.0 477.3,210.2 478.1,211.4 478.9,212.7 479.7,211.4 480.4,212.8 481.2,212.5 482.0,210.9 482.8,210.6 483.6,208.6 484.4,208.4 485.2,209.0 486.0,210.2 486.7,210.3 487.5,209.1 488.3,208.2 489.1,208.4 489.9,208.4 490.7,209.9 491.5,210.6 492.3,210.3 493.0,210.6 493.8,210.2 494.6,209.2 495.4,208.1 496.2,208.2 497.0,210.0 497.8,211.8 498.5,212.6 499.3,213.0 500.1,209.9 500.9,208.8 501.7,209.0 502.5,208.3 503.3,209.0 504.1,209.2 504.8,208.8 505.6,210.2 506.4,211.6 507.2,210.6 508.0,211.9 508.8,210.4 509.6,209.3 510.4,209.6 511.1,208.0 511.9,208.3 512.7,210.2 513.5,211.5 514.3,212.5 515.1,212.3 515.9,211.6 516.6,211.4 517.4,211.2 518.2,210.9 519.0,211.1 519.8,211.6 520.6,210.9 521.4,213.3 522.2,212.0 522.9,211.4 523.7,212.9 524.5,211.8 525.3,212.7 526.1,212.3 526.9,210.9 527.7,209.6 528.4,208.9 529.2,209.0 530.0,209.6 530.8,210.7 531.6,209.9 532.4,211.3 533.2,210.5 534.0,210.8 534.7,211.5 535.5,209.9 536.3,209.8 537.1,209.3 537.9,209.6 538.7,209.6 539.5,210.2 540.3,210.5 541.0,210.1 541.8,209.7 542.6,209.6 543.4,209.4 544.2,210.4 545.0,210.7 545.8,206.7 546.5,203.1 547.3,198.5 548.1,192.1 548.9,186.8 549.7,182.0 550.5,176.7 551.3,170.7 552.1,164.5 552.8,158.4 553.6,152.9 554.4,148.3 555.2,144.1 556.0,140.2 556.8,136.6 557.6,133.4 558.4,130.5 559.1,128.0 559.9,125.5 560.7,123.2 561.5,121.0 562.3,118.9 563.1,116.9 563.9,115.1 564.6,113.5 565.4,112.0 566.2,110.7 567.0,109.6 567.8,108.5 568.6,107.6 569.4,106.7 570.2,105.8 570.9,105.0 571.7,104.3 572.5,103.6 573.3,102.9 574.1,102.3 574.9,101.7 575.7,101.2 576.4,100.7 577.2,100.2 578.0,99.8 578.8,99.4 579.6,99.0 580.4,98.6 581.2,98.3 582.0,97.9 582.7,97.6 583.5,97.3 584.3,96.9 585.1,96.6 585.9,96.3 586.7,96.0 587.5,95.6 588.3,95.3 589.0,95.0 589.8,94.7 590.6,94.4 591.4,94.0 592.2,93.7 593.0,93.5 593.8,93.2 594.5,92.9 595.3,92.6 596.1,92.4 596.9,92.2 597.7,91.9 598.5,91.7 599.3,91.5 600.1,91.2 600.8,91.0 601.6,90.8 602.4,90.6 603.2,90.4 604.0,90.2 604.8,90.0 605.6,89.8 606.3,89.6 607.1,89.4 607.9,89.2 608.7,89.0 609.5,88.8 610.3,88.7 611.1,88.5 611.9,88.3 612.6,88.1 613.4,88.0 614.2,87.8 615.0,87.6 615.8,87.5 616.6,87.3 617.4,87.1 618.2,87.0 618.9,86.8 619.7,86.7 620.5,86.5 621.3,86.3 622.1,86.2 622.9,86.0 623.7,85.9 624.4,85.7 625.2,85.6 626.0,85.4 626.8,85.3 627.6,85.1 628.4,85.0 629.2,84.9 630.0,84.7 630.7,84.6 631.5,84.5 632.3,84.4 633.1,84.2 633.9,84.1 634.7,84.0 635.5,83.9 636.3,83.8 637.0,83.7 637.8,83.6 638.6,83.5 639.4,83.4 640.2,83.3 641.0,83.2 641.8,83.0 642.5,82.9 643.3,82.8 644.1,82.8 644.9,82.7 645.7,82.6 646.5,82.5 647.3,82.4 648.1,82.3 648.8,82.2 649.6,82.1 650.4,82.0 651.2,81.9 652.0,81.8 652.8,81.8 653.6,81.7 654.3,81.6 655.1,81.5 655.9,81.4 656.7,81.4 657.5,81.3 658.3,81.2 659.1,81.2 659.9,81.1 660.6,81.0 661.4,81.0 662.2,80.9 663.0,80.8 663.8,80.8 664.6,80.7 665.4,80.7 666.2,80.6 666.9,80.5 667.7,80.4 668.5,80.3 669.3,80.3"/>
<polyline stroke="#47a047" points="417.5,210.2 418.3,209.5 419.1,209.0 419.9,209.6 420.6,210.3 421.4,210.8 422.2,212.0 423.0,211.6 423.8,211.3 424.6,213.9 425.4,213.0 426.2,212.0 426.9,211.5 427.7,210.4 428.5,209.6 429.3,209.9 430.1,208.6 430.9,208.5 431.7,209.3 432.5,209.6 433.2,211.2 434.0,210.6 434.8,210.4 435.6,210.9 436.4,212.0 437.2,212.4 438.0,213.4 438.7,213.6 439.5,212.9 440.3,212.1 441.1,210.5 441.9,210.5 442.7,209.9 443.5,209.7 444.3,210.3 445.0,210.8 445.8,212.5 446.6,212.5 447.4,211.9 448.2,210.5 449.0,209.7 449.8,209.2 450.5,209.0 451.3,209.2 452.1,208.6 452.9,211.1 453.7,211.4 454.5,212.6 455.3,211.9 456.1,210.0 456.8,210.5 457.6,208.2 458.4,208.9 459.2,209.0 460.0,208.5 460.8,209.4 461.6,209.5 462.4,209.0 463.1,209.3 463.9,209.6 464.7,209.4 465.5,210.2 466.3,208.9 467.1,208.7 467.9,208.7 468.6,209.6 469.4,212.1 470.2,213.6 471.0,213.2 471.8,212.4 472.6,212.3 473.4,212.0 474.2,212.4 474.9,212.8 475.7,213.0 476.5,211.7 477.3,211.4 478.1,211.1 478.9,209.5 479.7,210.2 480.4,209.4 481.2,210.1 482.0,210.2 482.8,209.3 483.6,210.5 484.4,209.5 485.2,210.8 486.0,212.3 486.7,212.3 487.5,213.1 488.3,211.7 489.1,210.6 489.9,210.0 490.7,209.3 491.5,209.6 492.3,209.5 493.0,210.2 493.8,210.8 494.6,209.5 495.4,210.8 496.2,210.7 497.0,209.6 497.8,210.8 498.5,208.5 499.3,208.0 500.1,209.6 500.9,210.1 501.7,212.2 502.5,211.9 503.3,209.9 504.1,210.0 504.8,208.6 505.6,209.6 506.4,211.7 507.2,211.7 508.0,213.2 508.8,213.3 509.6,212.1 510.4,211.3 511.1,209.2 511.9,209.1 512.7,209.0 513.5,209.3 514.3,209.8 515.1,211.6 515.9,212.3 516.6,212.1 517.4,213.3 518.2,211.1 519.0,209.9 519.8,211.8 520.6,211.2 521.4,211.2 522.2,211.8 522.9,211.5 523.7,211.1 524.5,211.7 525.3,211.1 526.1,209.7 526.9,210.4 527.7,209.8 528.4,210.9 529.2,211.7 530.0,212.5 530.8,212.8 531.6,211.7 532.4,211.1 533.2,210.0 534.0,210.3 534.7,211.3 535.5,210.8 536.3,211.9 537.1,210.0 537.9,209.6 538.7,208.6 539.5,206.7 540.3,208.5 541.0,207.9 541.8,209.3 542.6,209.8 543.4,209.0 544.2,209.9 545.0,210.5 545.8,211.2 546.5,210.7 547.3,206.8 548.1,203.1 548.9,198.5 549.7,192.2 550.5,186.8 551.3,182.0 552.1,176.7 552.8,170.8 553.6,164.5 554.4,158.5 555.2,152.9 556.0,148.3 556.8,144.1 557.6,140.2 558.4,136.6 559.1,133.4 559.9,130.5 560.7,128.0 561.5,125.5 562.3,123.2 563.1,121.0 563.9,118.9 564.6,117.0 565.4,115.2 566.2,113.5 567.0,112.0 567.8,110.7 568.6,109.6 569.4,108.6 570.2,107.6 570.9,106.7 571.7,105.8 572.5,105.0 573.3,104.3 574.1,103.6 574.9,102.9 575.7,102.3 576.4,101.7 577.2,101.2 578.0,100.7 578.8,100.2 579.6,99.8 580.4,99.4 581.2,99.0 582.0,98.6 582.7,98.3 583.5,97.9 584.3,97.6 585.1,97.3 585.9,96.9 586.7,96.6 587.5,96.3 588.3,96.0 589.0,95.6 589.8,95.3 590.6,95.0 591.4,94.7 592.2,94.4 593.0,94.1 593.8,93.8 594.5,93.5 595.3,93.2 596.1,92.9 596.9,92.6 597.7,92.4 598.5,92.2 599.3,91.9 600.1,91.7 600.8,91.5 601.6,91.2 602.4,91.0 603.2,90.8 604.0,90.6 604.8,90.4 605.6,90.2 606.3,90.0 607.1,89.8 607.9,89.6 608.7,89.4 609.5,89.2 610.3,89.0 611.1,88.8 611.9,88.7 612.6,88.5 613.4,88.3 614.2,88.1 615.0,88.0 615.8,87.8 616.6,87.6 617.4,87.5 618.2,87.3 618.9,87.1 619.7,87.0 620.5,86.8 621.3,86.7 622.1,86.5 622.9,86.3 623.7,86.2 624.4,86.0 625.2,85.9 626.0,85.7 626.8,85.6 627.6,85.4 628.4,85.3 629.2,85.1 630.0,85.0 630.7,84.9 631.5,84.7 632.3,84.6 633.1,84.5 633.9,84.4 634.7,84.2 635.5,84.1 636.3,84.0 637.0,83.9 637.8,83.8 638.6,83.7 639.4,83.6 640.2,83.5 641.0,83.4 641.8,83.3 642.5,83.2 643.3,83.1 644.1,82.9 644.9,82.9 645.7,82.8 646.5,82.7 647.3,82.6 648.1,82.5 648.8,82.4 649.6,82.3 650.4,82.2 651.2,82.1 652.0,82.0 652.8,81.9 653.6,81.8 654.3,81.8 655.1,81.7 655.9,81.6 656.7,81.5 657.5,81.4 658.3,81.4 659.1,81.3 659.9,81.2 660.6,81.2 661.4,81.1 662.2,81.0 663.0,81.0 663.8,80.9 664.6,80.8 665.4,80.8 666.2,80.7 666.9,80.7 667.7,80.6 668.5,80.5 669.3,80.4"/>
<polyline stroke="#246b26" points="417.5,210.5 418.3,209.4 419.1,209.0 419.9,210.2 420.6,209.8 421.4,213.5 422.2,212.9 423.0,210.0 423.8,208.7 424.6,206.7 425.4,208.4 426.2,210.9 426.9,211.6 427.7,212.2 428.5,212.0 429.3,211.4 430.1,212.1 430.9,210.8 431.7,209.2 432.5,208.6 433.2,208.4 434.0,209.9 434.8,212.1 435.6,213.0 436.4,212.4 437.2,211.4 438.0,209.7 438.7,208.6 439.5,209.5 440.3,210.7 441.1,211.7 441.9,213.1 442.7,211.2 443.5,210.1 444.3,210.1 445.0,207.5 445.8,209.3 446.6,209.1 447.4,208.9 448.2,210.2 449.0,210.2 449.8,210.2 450.5,209.0 451.3,210.2 452.1,211.6 452.9,211.0 453.7,211.9 454.5,210.3 455.3,208.8 456.1,208.7 456.8,207.4 457.6,209.0 458.4,208.3 459.2,209.9 460.0,212.5 460.8,211.9 461.6,211.9 462.4,212.5 463.1,212.3 463.9,211.1 464.7,211.5 465.5,210.2 466.3,210.1 467.1,211.5 467.9,211.5 468.6,211.6 469.4,210.7 470.2,209.0 471.0,208.9 471.8,210.3 472.6,211.1 473.4,212.3 474.2,211.5 474.9,210.8 475.7,210.5 476.5,210.5 477.3,212.0 478.1,212.1 478.9,212.0 479.7,211.2 480.4,210.3 481.2,209.9 482.0,209.4 482.8,211.2 483.6,210.8 484.4,210.0 485.2,210.1 486.0,210.4 486.7,209.6 487.5,212.4 488.3,213.4 489.1,212.8 489.9,213.9 490.7,212.8 491.5,211.8 492.3,211.2 493.0,212.0 493.8,210.2 494.6,209.3 495.4,208.9 496.2,208.9 497.0,211.3 497.8,211.2 498.5,211.7 499.3,213.0 500.1,211.1 500.9,211.1 501.7,211.0 502.5,210.4 503.3,208.8 504.1,209.5 504.8,209.1 505.6,207.4 506.4,210.8 507.2,211.3 508.0,211.7 508.8,210.8 509.6,209.5 510.4,209.9 511.1,210.8 511.9,213.2 512.7,212.9 513.5,212.3 514.3,211.4 515.1,209.2 515.9,208.7 516.6,208.4 517.4,207.2 518.2,208.2 519.0,209.0 519.8,210.7 520.6,211.4 521.4,212.6 522.2,211.1 522.9,210.5 523.7,212.5 524.5,211.9 525.3,212.0 526.1,211.6 526.9,209.8 527.7,209.7 528.4,209.2 529.2,208.8 530.0,209.0 530.8,209.6 531.6,212.1 532.4,211.3 533.2,210.4 534.0,210.6 534.7,208.9 535.5,209.7 536.3,210.9 537.1,210.4 537.9,210.3 538.7,211.5 539.5,211.6 540.3,211.4 541.0,212.0 541.8,211.2 542.6,210.7 543.4,210.2 544.2,210.9 545.0,210.7 545.8,211.2 546.5,210.5 547.3,210.9 548.1,210.3 548.9,206.4 549.7,202.7 550.5,197.9 551.3,191.6 552.1,186.3 552.8,181.5 553.6,176.1 554.4,170.1 555.2,163.9 556.0,157.9 556.8,152.4 557.6,147.9 558.4,143.7 559.1,139.8 559.9,136.3 560.7,133.1 561.5,130.3 562.3,127.7 563.1,125.3 563.9,123.0 564.6,120.8 565.4,118.7 566.2,116.8 567.0,115.0 567.8,113.4 568.6,111.9 569.4,110.6 570.2,109.5 570.9,108.5 571.7,107.5 572.5,106.6 573.3,105.7 574.1,104.9 574.9,104.2 575.7,103.5 576.4,102.8 577.2,102.2 578.0,101.7 578.8,101.1 579.6,100.6 580.4,100.2 581.2,99.7 582.0,99.3 582.7,98.9 583.5,98.6 584.3,98.2 585.1,97.9 585.9,97.6 586.7,97.2 587.5,96.9 588.3,96.6 589.0,96.3 589.8,95.9 590.6,95.6 591.4,95.3 592.2,95.0 593.0,94.6 593.8,94.3 594.5,94.0 595.3,93.7 596.1,93.4 596.9,93.2 597.7,92.9 598.5,92.6 599.3,92.4 600.1,92.1 600.8,91.9 601.6,91.7 602.4,91.4 603.2,91.2 604.0,91.0 604.8,90.8 605.6,90.6 606.3,90.4 607.1,90.2 607.9,90.0 608.7,89.8 609.5,89.6 610.3,89.4 611.1,89.2 611.9,89.0 612.6,88.8 613.4,88.6 614.2,88.5 615.0,88.3 615.8,88.1 616.6,88.0 617.4,87.8 618.2,87.6 618.9,87.5 619.7,87.3 620.5,87.1 621.3,87.0 622.1,86.8 622.9,86.6 623.7,86.5 624.4,86.3 625.2,86.2 626.0,86.0 626.8,85.9 627.6,85.7 628.4,85.6 629.2,85.4 630.0,85.3 630.7,85.1 631.5,85.0 632.3,84.9 633.1,84.7 633.9,84.6 634.7,84.5 635.5,84.3 636.3,84.2 637.0,84.1 637.8,84.0 638.6,83.9 639.4,83.8 640.2,83.7 641.0,83.6 641.8,83.5 642.5,83.3 643.3,83.2 644.1,83.1 644.9,83.0 645.7,82.9 646.5,82.8 647.3,82.7 648.1,82.6 648.8,82.5 649.6,82.5 650.4,82.4 651.2,82.3 652.0,82.2 652.8,82.1 653.6,82.0 654.3,81.9 655.1,81.8 655.9,81.7 656.7,81.7 657.5,81.6 658.3,81.5 659.1,81.4 659.9,81.4 660.6,81.3 661.4,81.2 662.2,81.1 663.0,81.1 663.8,81.0 664.6,81.0 665.4,80.9 666.2,80.8 666.9,80.8 667.7,80.7 668.5,80.7 669.3,80.6"/>
<polyline stroke="#153d1a" points="417.5,209.8 418.3,209.1 419.1,209.5 419.9,209.7 420.6,210.4 421.4,212.1 422.2,212.6 423.0,212.0 423.8,211.0 424.6,209.9 425.4,210.6 426.2,211.3 426.9,210.5 427.7,211.1 428.5,210.5 429.3,209.4 430.1,209.0 430.9,209.2 431.7,209.5 432.5,211.3 433.2,213.2 434.0,212.5 434.8,212.7 435.6,213.1 436.4,211.7 437.2,212.6 438.0,212.4 438.7,210.6 439.5,210.7 440.3,210.1 441.1,211.4 441.9,211.3 442.7,212.1 443.5,213.2 444.3,213.3 445.0,212.8 445.8,212.2 446.6,211.0 447.4,208.8 448.2,209.9 449.0,211.1 449.8,210.7 450.5,210.4 451.3,209.9 452.1,207.5 452.9,206.6 453.7,208.0 454.5,208.7 455.3,209.2 456.1,210.6 456.8,209.8 457.6,208.7 458.4,208.8 459.2,209.3 460.0,209.4 460.8,210.7 461.6,211.4 462.4,211.9 463.1,213.6 463.9,213.4 464.7,213.7 465.5,212.1 466.3,209.4 467.1,209.0 467.9,208.1 468.6,209.3 469.4,211.3 470.2,211.5 471.0,212.1 471.8,211.4 472.6,210.6 473.4,209.0 474.2,209.0 474.9,210.5 475.7,210.5 476.5,212.3 477.3,212.0 478.1,209.8 478.9,210.4 479.7,209.9 480.4,209.7 481.2,211.3 482.0,210.6 482.8,210.1 483.6,209.9 484.4,208.3 485.2,208.0 486.0,208.2 486.7,209.9 487.5,212.8 488.3,214.0 489.1,213.2 489.9,212.0 490.7,211.7 491.5,211.3 492.3,212.1 493.0,213.6 493.8,211.4 494.6,212.0 495.4,211.4 496.2,210.0 497.0,208.0 497.8,208.1 498.5,208.7 499.3,209.9 500.1,211.4 500.9,210.3 501.7,209.8 502.5,208.5 503.3,210.4 504.1,211.0 504.8,212.6 505.6,213.5 506.4,212.5 507.2,211.2 508.0,209.5 508.8,208.3 509.6,208.9 510.4,209.3 511.1,210.6 511.9,210.9 512.7,209.8 513.5,210.3 514.3,210.0 515.1,210.5 515.9,210.7 516.6,210.8 517.4,211.5 518.2,211.5 519.0,212.8 519.8,211.4 520.6,210.3 521.4,211.1 522.2,210.1 522.9,210.7 523.7,210.4 524.5,209.5 525.3,209.6 526.1,210.0 526.9,209.5 527.7,208.9 528.4,207.3 529.2,207.7 530.0,207.2 530.8,207.5 531.6,210.6 532.4,211.4 533.2,214.0 534.0,215.3 534.7,213.1 535.5,212.7 536.3,210.8 537.1,210.1 537.9,211.1 538.7,211.4 539.5,211.2 540.3,210.7 541.0,211.0 541.8,210.3 542.6,209.3 543.4,208.8 544.2,207.7 545.0,208.6 545.8,210.8 546.5,210.9 547.3,213.0 548.1,211.0 548.9,210.3 549.7,206.5 550.5,202.9 551.3,198.2 552.1,191.8 552.8,186.5 553.6,181.7 554.4,176.4 555.2,170.4 556.0,164.2 556.8,158.1 557.6,152.6 558.4,148.1 559.1,143.9 559.9,140.0 560.7,136.4 561.5,133.2 562.3,130.4 563.1,127.8 563.9,125.4 564.6,123.1 565.4,120.9 566.2,118.8 567.0,116.8 567.8,115.1 568.6,113.4 569.4,112.0 570.2,110.7 570.9,109.5 571.7,108.5 572.5,107.5 573.3,106.6 574.1,105.8 574.9,105.0 575.7,104.2 576.4,103.5 577.2,102.9 578.0,102.3 578.8,101.7 579.6,101.2 580.4,100.7 581.2,100.2 582.0,99.8 582.7,99.3 583.5,99.0 584.3,98.6 585.1,98.2 585.9,97.9 586.7,97.6 587.5,97.2 588.3,96.9 589.0,96.6 589.8,96.3 590.6,95.9 591.4,95.6 592.2,95.3 593.0,95.0 593.8,94.6 594.5,94.3 595.3,94.0 596.1,93.7 596.9,93.4 597.7,93.2 598.5,92.9 599.3,92.6 600.1,92.4 600.8,92.1 601.6,91.9 602.4,91.7 603.2,91.4 604.0,91.2 604.8,91.0 605.6,90.8 606.3,90.6 607.1,90.4 607.9,90.2 608.7,90.0 609.5,89.8 610.3,89.6 611.1,89.4 611.9,89.2 612.6,89.0 613.4,88.8 614.2,88.7 615.0,88.5 615.8,88.3 616.6,88.1 617.4,88.0 618.2,87.8 618.9,87.6 619.7,87.5 620.5,87.3 621.3,87.1 622.1,87.0 622.9,86.8 623.7,86.6 624.4,86.5 625.2,86.3 626.0,86.2 626.8,86.0 627.6,85.9 628.4,85.7 629.2,85.6 630.0,85.4 630.7,85.3 631.5,85.1 632.3,85.0 633.1,84.9 633.9,84.7 634.7,84.6 635.5,84.5 636.3,84.3 637.0,84.2 637.8,84.1 638.6,84.0 639.4,83.9 640.2,83.8 641.0,83.7 641.8,83.6 642.5,83.5 643.3,83.4 644.1,83.2 644.9,83.1 645.7,83.0 646.5,82.9 647.3,82.8 648.1,82.7 648.8,82.6 649.6,82.6 650.4,82.5 651.2,82.4 652.0,82.3 652.8,82.2 653.6,82.1 654.3,82.0 655.1,81.9 655.9,81.8 656.7,81.7 657.5,81.7 658.3,81.6 659.1,81.5 659.9,81.4 660.6,81.4 661.4,81.3 662.2,81.2 663.0,81.1 663.8,81.1 664.6,81.0 665.4,81.0 666.2,80.9 666.9,80.8 667.7,80.8 668.5,80.7 669.3,80.7"/>
</g>
<path d="M417.5 229V12.3H669" stroke="#111" stroke-width="1.3" fill="none"/>
<path d="M417.5 229H669" stroke="#000" stroke-width="1.0" fill="none"/>
<path d="M669 12.3V229" stroke="#000" stroke-width="1.0" fill="none"/>
<path d="M417.5 228.7h4.5 M417.5 222.19h2.5 M417.5 218.38h2.5 M417.5 215.67h2.5 M417.5 213.57h2.5 M417.5 211.86h2.5 M417.5 210.41h2.5 M417.5 209.16h2.5 M417.5 208.05h2.5 M417.5 207.06h4.5 M417.5 200.55h2.5 M417.5 196.74h2.5 M417.5 194.03h2.5 M417.5 191.93h2.5 M417.5 190.22h2.5 M417.5 188.77h2.5 M417.5 187.52h2.5 M417.5 186.41h2.5 M417.5 185.42h4.5 M417.5 178.91h2.5 M417.5 175.1h2.5 M417.5 172.39h2.5 M417.5 170.29h2.5 M417.5 168.58h2.5 M417.5 167.13h2.5 M417.5 165.88h2.5 M417.5 164.77h2.5 M417.5 163.78h4.5 M417.5 157.27h2.5 M417.5 153.46h2.5 M417.5 150.75h2.5 M417.5 148.65h2.5 M417.5 146.94h2.5 M417.5 145.49h2.5 M417.5 144.24h2.5 M417.5 143.13h2.5 M417.5 142.14h4.5 M417.5 135.63h2.5 M417.5 131.82h2.5 M417.5 129.11h2.5 M417.5 127.01h2.5 M417.5 125.3h2.5 M417.5 123.85h2.5 M417.5 122.6h2.5 M417.5 121.49h2.5 M417.5 120.5h4.5 M417.5 113.99h2.5 M417.5 110.18h2.5 M417.5 107.47h2.5 M417.5 105.37h2.5 M417.5 103.66h2.5 M417.5 102.21h2.5 M417.5 100.96h2.5 M417.5 99.85h2.5 M417.5 98.86h4.5 M417.5 92.35h2.5 M417.5 88.54h2.5 M417.5 85.83h2.5 M417.5 83.73h2.5 M417.5 82.02h2.5 M417.5 80.57h2.5 M417.5 79.32h2.5 M417.5 78.21h2.5 M417.5 77.22h4.5 M417.5 70.71h2.5 M417.5 66.9h2.5 M417.5 64.19h2.5 M417.5 62.09h2.5 M417.5 60.38h2.5 M417.5 58.93h2.5 M417.5 57.68h2.5 M417.5 56.57h2.5 M417.5 55.58h4.5 M417.5 49.07h2.5 M417.5 45.26h2.5 M417.5 42.55h2.5 M417.5 40.45h2.5 M417.5 38.74h2.5 M417.5 37.29h2.5 M417.5 36.04h2.5 M417.5 34.93h2.5 M417.5 33.94h4.5 M417.5 27.43h2.5 M417.5 23.62h2.5 M417.5 20.91h2.5 M417.5 18.81h2.5 M417.5 17.1h2.5 M417.5 15.65h2.5 M417.5 14.4h2.5 M417.5 13.29h2.5 M417.5 12.3h4.5 M417.5 228.7v-4.5 M448.98 228.7v-2.5 M480.45 228.7v-4.5 M511.92 228.7v-2.5 M543.4 228.7v-4.5 M574.88 228.7v-2.5 M606.35 228.7v-4.5 M637.82 228.7v-2.5 M669.3 228.7v-4.5" stroke="#000" stroke-width="1.1" fill="none"/>
<text transform="translate(412.2,19) scale(0.92,1)" text-anchor="end" font-size="18">10<tspan font-size="10.5" dy="-9" dx="0.3">-4</tspan></text>
<text transform="translate(412.2,62.48) scale(0.92,1)" text-anchor="end" font-size="18">10<tspan font-size="10.5" dy="-9" dx="0.3">-6</tspan></text>
<text transform="translate(412.2,105.96) scale(0.92,1)" text-anchor="end" font-size="18">10<tspan font-size="10.5" dy="-9" dx="0.3">-8</tspan></text>
<text transform="translate(412.2,149.44) scale(0.92,1)" text-anchor="end" font-size="18">10<tspan font-size="10.5" dy="-9" dx="0.3">-10</tspan></text>
<text transform="translate(412.2,192.92) scale(0.92,1)" text-anchor="end" font-size="18">10<tspan font-size="10.5" dy="-9" dx="0.3">-12</tspan></text>
<text transform="translate(412.2,236.4) scale(0.92,1)" text-anchor="end" font-size="18">10<tspan font-size="10.5" dy="-9" dx="0.3">-14</tspan></text>
<text transform="translate(417.1,247.7) scale(0.92,1)" text-anchor="middle" font-size="18">-4</text>
<text transform="translate(480.05,247.7) scale(0.92,1)" text-anchor="middle" font-size="18">-2</text>
<text transform="translate(543,247.7) scale(0.92,1)" text-anchor="middle" font-size="18">0</text>
<text transform="translate(605.95,247.7) scale(0.92,1)" text-anchor="middle" font-size="18">2</text>
<text transform="translate(668.9,247.7) scale(0.92,1)" text-anchor="middle" font-size="18">4</text>
<text transform="translate(366.7,117.5) rotate(-90)" text-anchor="middle" font-size="24">I<tspan font-size="14" dy="9.4">D</tspan><tspan dy="-9.4"> [A]</tspan></text>
<text transform="translate(517.1,271.3) scale(0.92,1)" font-size="24">V</text>
<text transform="translate(532.8,281.1) scale(0.92,1)" font-size="14.5">G</text>
<text transform="translate(551.3,271.3) scale(0.92,1)" font-size="24">[V]</text>
<text x="426.5" y="31.8" font-size="14">W = 10 µm, L = 12 µm</text>
<text x="426.5" y="49.8" font-size="14">V<tspan font-size="9" dy="5.5">D</tspan><tspan dy="-5.5"> = 0.1 V</tspan></text>
<text x="427.1" y="77.2" font-size="11.6" font-weight="bold">Stress condition</text>
<text x="427.1" y="91.9" font-size="11.8">V<tspan font-size="8" dy="5">OV</tspan><tspan dy="-5"> = 30 V, V</tspan><tspan font-size="8" dy="5">DS</tspan><tspan dy="-5"> = 0 V</tspan></text>
<text x="427.1" y="114.8" font-size="12">Temp. = 60 <tspan font-size="7" dy="-5.5" dx="0.6">o</tspan><tspan dy="5.5" dx="0.2">C</tspan></text>
<text x="427.1" y="148.6" font-size="11.3">Measurement range</text>
<text x="427.1" y="167.9" font-size="11.5">V<tspan font-size="8" dy="6">G</tspan><tspan dy="-6" dx="-0.5"> = -15 V ~ 15 V</tspan></text>
<text transform="translate(667.4,32.6) scale(0.95,1)" text-anchor="end" font-size="20.5" font-weight="bold">(b)</text>
<line x1="538.9" y1="121" x2="573" y2="121" stroke="#12861e" stroke-width="1.6"/>
<path d="M581 121L571.5 116.1L571.5 125.9Z" fill="#12861e"/>
<text x="584" y="127.8" font-size="11.4">Stress time [sec]</text>
<line x1="583.6" y1="137.9" x2="609" y2="137.9" stroke="#d5ebd2" stroke-width="2.7" stroke-linecap="round"/>
<text x="612.5" y="142" font-size="11.5">0</text>
<line x1="583.6" y1="152.2" x2="609" y2="152.2" stroke="#b4dcae" stroke-width="2.7" stroke-linecap="round"/>
<text x="612.5" y="156.3" font-size="11.5">300</text>
<line x1="583.6" y1="166.5" x2="609" y2="166.5" stroke="#7cc178" stroke-width="2.7" stroke-linecap="round"/>
<text x="612.5" y="170.6" font-size="11.5">900</text>
<line x1="583.6" y1="180.8" x2="609" y2="180.8" stroke="#47a047" stroke-width="2.7" stroke-linecap="round"/>
<text x="612.5" y="184.9" font-size="11.5">1800</text>
<line x1="583.6" y1="195.1" x2="609" y2="195.1" stroke="#246b26" stroke-width="2.7" stroke-linecap="round"/>
<text x="612.5" y="199.2" font-size="11.5">2700</text>
<line x1="583.6" y1="209.4" x2="609" y2="209.4" stroke="#153d1a" stroke-width="2.7" stroke-linecap="round"/>
<text x="612.5" y="213.5" font-size="11.5">3600</text>
<clipPath id="clipc"><rect x="68.2" y="322.7" width="251.9" height="215.8"/></clipPath>
<g clip-path="url(#clipc)" fill="none" stroke-width="2.6" stroke-linejoin="round">
<polyline stroke="#d9e3f7" points="68.2,520.7 69.0,522.5 69.8,522.2 70.6,522.5 71.3,520.0 72.1,518.4 72.9,518.5 73.7,518.1 74.5,520.9 75.3,521.8 76.1,521.9 76.9,521.3 77.6,521.0 78.4,519.6 79.2,519.4 80.0,519.8 80.8,518.5 81.6,518.8 82.4,519.0 83.2,519.2 83.9,519.9 84.7,518.9 85.5,518.7 86.3,518.8 87.1,518.4 87.9,520.4 88.7,520.5 89.5,519.7 90.2,520.0 91.0,519.3 91.8,518.6 92.6,521.2 93.4,520.9 94.2,521.7 95.0,523.3 95.8,521.1 96.5,521.3 97.3,521.0 98.1,520.5 98.9,520.7 99.7,521.3 100.5,519.9 101.3,518.6 102.0,518.5 102.8,517.7 103.6,518.8 104.4,520.0 105.2,519.8 106.0,520.1 106.8,520.1 107.6,520.0 108.3,520.3 109.1,522.5 109.9,521.8 110.7,520.9 111.5,522.3 112.3,520.4 113.1,521.6 113.9,521.4 114.6,521.7 115.4,522.4 116.2,521.2 117.0,520.9 117.8,521.0 118.6,520.7 119.4,521.0 120.2,522.3 120.9,519.6 121.7,520.1 122.5,520.1 123.3,520.4 124.1,520.5 124.9,519.7 125.7,520.2 126.5,520.7 127.2,520.5 128.0,519.9 128.8,519.1 129.6,517.1 130.4,518.0 131.2,519.0 132.0,520.1 132.7,521.5 133.5,520.8 134.3,521.4 135.1,521.2 135.9,520.9 136.7,521.7 137.5,520.2 138.3,520.7 139.0,521.7 139.8,521.9 140.6,521.4 141.4,520.0 142.2,518.6 143.0,518.8 143.8,519.5 144.6,520.2 145.3,519.8 146.1,520.1 146.9,520.2 147.7,520.1 148.5,520.3 149.3,519.6 150.1,517.9 150.9,516.7 151.6,516.0 152.4,517.6 153.2,519.7 154.0,521.2 154.8,521.9 155.6,522.1 156.4,521.0 157.2,519.8 157.9,521.1 158.7,520.2 159.5,521.6 160.3,522.3 161.1,520.9 161.9,518.8 162.7,518.3 163.4,517.8 164.2,518.2 165.0,518.4 165.8,517.7 166.6,517.3 167.4,518.2 168.2,519.6 169.0,520.7 169.7,520.6 170.5,519.3 171.3,519.4 172.1,519.2 172.9,519.9 173.7,520.9 174.5,521.3 175.3,520.6 176.0,519.2 176.8,518.9 177.6,518.6 178.4,519.8 179.2,522.5 180.0,522.0 180.8,521.0 181.6,520.1 182.3,518.9 183.1,519.2 183.9,519.7 184.7,520.8 185.5,521.4 186.3,521.4 187.1,522.1 187.9,520.5 188.6,515.6 189.4,510.7 190.2,505.7 191.0,500.8 191.8,495.9 192.6,491.0 193.4,486.1 194.1,481.1 194.9,476.2 195.7,471.4 196.5,466.8 197.3,462.3 198.1,457.9 198.9,453.8 199.7,449.8 200.4,446.2 201.2,443.0 202.0,440.1 202.8,437.5 203.6,435.3 204.4,433.3 205.2,431.6 206.0,430.1 206.7,428.8 207.5,427.7 208.3,426.6 209.1,425.7 209.9,424.7 210.7,423.8 211.5,422.9 212.3,422.0 213.0,421.0 213.8,420.2 214.6,419.3 215.4,418.5 216.2,417.8 217.0,417.2 217.8,416.6 218.6,415.9 219.3,415.4 220.1,414.8 220.9,414.3 221.7,413.8 222.5,413.3 223.3,412.9 224.1,412.5 224.9,412.1 225.6,411.8 226.4,411.4 227.2,411.1 228.0,410.9 228.8,410.6 229.6,410.3 230.4,410.1 231.1,409.8 231.9,409.5 232.7,409.3 233.5,409.0 234.3,408.7 235.1,408.5 235.9,408.2 236.7,407.9 237.4,407.7 238.2,407.4 239.0,407.2 239.8,406.9 240.6,406.7 241.4,406.4 242.2,406.2 243.0,406.0 243.7,405.7 244.5,405.5 245.3,405.3 246.1,405.1 246.9,404.9 247.7,404.7 248.5,404.5 249.3,404.2 250.0,404.0 250.8,403.9 251.6,403.7 252.4,403.5 253.2,403.3 254.0,403.1 254.8,402.9 255.6,402.7 256.3,402.5 257.1,402.3 257.9,402.2 258.7,402.0 259.5,401.8 260.3,401.7 261.1,401.5 261.8,401.4 262.6,401.2 263.4,401.1 264.2,400.9 265.0,400.8 265.8,400.7 266.6,400.5 267.4,400.4 268.1,400.3 268.9,400.2 269.7,400.1 270.5,400.0 271.3,399.8 272.1,399.7 272.9,399.6 273.7,399.5 274.4,399.4 275.2,399.3 276.0,399.3 276.8,399.2 277.6,399.1 278.4,399.0 279.2,398.9 280.0,398.8 280.7,398.7 281.5,398.6 282.3,398.6 283.1,398.5 283.9,398.4 284.7,398.3 285.5,398.2 286.3,398.2 287.0,398.1 287.8,398.0 288.6,397.9 289.4,397.8 290.2,397.7 291.0,397.7 291.8,397.6 292.5,397.5 293.3,397.4 294.1,397.4 294.9,397.3 295.7,397.2 296.5,397.1 297.3,397.1 298.1,397.0 298.8,396.9 299.6,396.8 300.4,396.8 301.2,396.7 302.0,396.6 302.8,396.6 303.6,396.5 304.4,396.4 305.1,396.4 305.9,396.3 306.7,396.2 307.5,396.2 308.3,396.1 309.1,396.0 309.9,396.0 310.7,395.9 311.4,395.8 312.2,395.7 313.0,395.7 313.8,395.6 314.6,395.5 315.4,395.4 316.2,395.4 317.0,395.3 317.7,395.2 318.5,395.2 319.3,395.1 320.1,395.0"/>
<polyline stroke="#b3c6f1" points="68.2,520.3 69.0,519.0 69.8,520.2 70.6,522.7 71.3,521.6 72.1,522.9 72.9,521.2 73.7,519.4 74.5,520.9 75.3,519.2 76.1,521.2 76.9,520.5 77.6,518.6 78.4,519.6 79.2,518.9 80.0,519.0 80.8,519.4 81.6,520.1 82.4,519.6 83.2,519.2 83.9,518.1 84.7,517.8 85.5,518.9 86.3,518.8 87.1,520.8 87.9,520.4 88.7,519.6 89.5,519.3 90.2,519.5 91.0,519.7 91.8,521.8 92.6,523.3 93.4,521.7 94.2,522.1 95.0,520.7 95.8,521.0 96.5,521.7 97.3,521.0 98.1,521.4 98.9,520.0 99.7,520.2 100.5,519.8 101.3,519.4 102.0,518.6 102.8,518.5 103.6,519.1 104.4,519.0 105.2,520.5 106.0,520.2 106.8,520.3 107.6,519.1 108.3,518.5 109.1,518.1 109.9,517.3 110.7,518.1 111.5,520.0 112.3,520.8 113.1,520.8 113.9,520.7 114.6,518.8 115.4,519.4 116.2,520.3 117.0,521.1 117.8,520.5 118.6,520.0 119.4,520.1 120.2,520.4 120.9,521.5 121.7,520.6 122.5,519.8 123.3,519.4 124.1,518.2 124.9,518.2 125.7,517.8 126.5,516.7 127.2,516.9 128.0,517.5 128.8,517.7 129.6,518.9 130.4,518.6 131.2,518.9 132.0,517.9 132.7,518.9 133.5,519.5 134.3,518.9 135.1,520.7 135.9,518.8 136.7,518.8 137.5,519.1 138.3,519.2 139.0,519.7 139.8,519.5 140.6,518.9 141.4,518.5 142.2,518.3 143.0,518.9 143.8,519.1 144.6,520.0 145.3,521.0 146.1,521.1 146.9,522.7 147.7,522.3 148.5,521.3 149.3,521.0 150.1,521.0 150.9,519.9 151.6,521.3 152.4,521.3 153.2,521.7 154.0,523.2 154.8,521.4 155.6,522.1 156.4,521.5 157.2,520.9 157.9,521.0 158.7,520.8 159.5,520.2 160.3,519.1 161.1,520.0 161.9,520.3 162.7,520.7 163.4,520.6 164.2,519.3 165.0,517.9 165.8,517.6 166.6,518.6 167.4,518.7 168.2,520.0 169.0,519.3 169.7,518.6 170.5,519.8 171.3,519.6 172.1,520.3 172.9,519.5 173.7,517.0 174.5,517.1 175.3,517.0 176.0,520.0 176.8,521.8 177.6,521.7 178.4,522.5 179.2,520.2 180.0,521.6 180.8,521.7 181.6,520.8 182.3,522.3 183.1,520.5 183.9,519.6 184.7,520.7 185.5,520.8 186.3,521.0 187.1,521.8 187.9,521.7 188.6,520.9 189.4,521.4 190.2,521.5 191.0,519.9 191.8,519.4 192.6,518.0 193.4,516.9 194.1,517.0 194.9,515.9 195.7,511.0 196.5,506.1 197.3,501.2 198.1,496.3 198.9,491.3 199.7,486.4 200.4,481.5 201.2,476.5 202.0,471.8 202.8,467.2 203.6,462.7 204.4,458.2 205.2,454.1 206.0,450.1 206.7,446.4 207.5,443.2 208.3,440.3 209.1,437.7 209.9,435.4 210.7,433.5 211.5,431.7 212.3,430.2 213.0,428.9 213.8,427.8 214.6,426.7 215.4,425.7 216.2,424.8 217.0,423.9 217.8,423.0 218.6,422.0 219.3,421.1 220.1,420.2 220.9,419.4 221.7,418.6 222.5,417.9 223.3,417.2 224.1,416.6 224.9,416.0 225.6,415.4 226.4,414.9 227.2,414.3 228.0,413.8 228.8,413.4 229.6,412.9 230.4,412.5 231.1,412.1 231.9,411.8 232.7,411.5 233.5,411.2 234.3,410.9 235.1,410.6 235.9,410.3 236.7,410.1 237.4,409.8 238.2,409.6 239.0,409.3 239.8,409.0 240.6,408.7 241.4,408.5 242.2,408.2 243.0,408.0 243.7,407.7 244.5,407.4 245.3,407.2 246.1,406.9 246.9,406.7 247.7,406.4 248.5,406.2 249.3,406.0 250.0,405.7 250.8,405.5 251.6,405.3 252.4,405.1 253.2,404.9 254.0,404.7 254.8,404.5 255.6,404.3 256.3,404.1 257.1,403.9 257.9,403.7 258.7,403.5 259.5,403.3 260.3,403.1 261.1,402.9 261.8,402.7 262.6,402.5 263.4,402.4 264.2,402.2 265.0,402.0 265.8,401.8 266.6,401.7 267.4,401.5 268.1,401.4 268.9,401.2 269.7,401.1 270.5,400.9 271.3,400.8 272.1,400.7 272.9,400.5 273.7,400.4 274.4,400.3 275.2,400.2 276.0,400.1 276.8,400.0 277.6,399.9 278.4,399.7 279.2,399.6 280.0,399.5 280.7,399.5 281.5,399.4 282.3,399.3 283.1,399.2 283.9,399.1 284.7,399.0 285.5,398.9 286.3,398.8 287.0,398.7 287.8,398.7 288.6,398.6 289.4,398.5 290.2,398.4 291.0,398.3 291.8,398.2 292.5,398.2 293.3,398.1 294.1,398.0 294.9,397.9 295.7,397.8 296.5,397.8 297.3,397.7 298.1,397.6 298.8,397.5 299.6,397.4 300.4,397.4 301.2,397.3 302.0,397.2 302.8,397.1 303.6,397.1 304.4,397.0 305.1,396.9 305.9,396.8 306.7,396.8 307.5,396.7 308.3,396.6 309.1,396.6 309.9,396.5 310.7,396.4 311.4,396.4 312.2,396.3 313.0,396.2 313.8,396.2 314.6,396.1 315.4,396.0 316.2,396.0 317.0,395.9 317.7,395.8 318.5,395.7 319.3,395.7 320.1,395.6"/>
<polyline stroke="#8aa6eb" points="68.2,521.7 69.0,523.1 69.8,523.1 70.6,521.7 71.3,520.3 72.1,518.3 72.9,518.5 73.7,518.7 74.5,520.3 75.3,520.4 76.1,519.9 76.9,519.6 77.6,517.4 78.4,517.3 79.2,515.7 80.0,516.2 80.8,518.1 81.6,517.8 82.4,518.2 83.2,518.7 83.9,518.4 84.7,520.3 85.5,521.6 86.3,520.6 87.1,520.7 87.9,520.1 88.7,520.9 89.5,521.3 90.2,520.7 91.0,519.9 91.8,518.8 92.6,519.9 93.4,519.3 94.2,519.7 95.0,520.0 95.8,518.6 96.5,521.2 97.3,521.2 98.1,521.2 98.9,521.5 99.7,519.1 100.5,518.8 101.3,519.9 102.0,520.4 102.8,521.2 103.6,521.4 104.4,521.0 105.2,521.9 106.0,521.7 106.8,521.5 107.6,520.7 108.3,520.7 109.1,519.9 109.9,522.1 110.7,522.3 111.5,519.8 112.3,521.0 113.1,519.0 113.9,519.5 114.6,520.0 115.4,520.7 116.2,520.7 117.0,519.9 117.8,521.5 118.6,520.0 119.4,521.1 120.2,521.7 120.9,521.0 121.7,521.8 122.5,520.6 123.3,519.5 124.1,519.7 124.9,519.8 125.7,520.4 126.5,521.3 127.2,520.6 128.0,520.4 128.8,519.7 129.6,519.6 130.4,520.7 131.2,519.9 132.0,520.9 132.7,520.8 133.5,519.3 134.3,520.6 135.1,519.9 135.9,521.0 136.7,522.3 137.5,522.6 138.3,522.8 139.0,522.1 139.8,521.7 140.6,519.6 141.4,519.2 142.2,518.4 143.0,518.5 143.8,519.7 144.6,520.5 145.3,522.1 146.1,522.0 146.9,520.8 147.7,519.9 148.5,519.1 149.3,518.0 150.1,519.4 150.9,520.1 151.6,520.6 152.4,522.3 153.2,522.2 154.0,520.4 154.8,519.8 155.6,519.8 156.4,520.1 157.2,521.5 157.9,522.5 158.7,521.8 159.5,520.9 160.3,520.5 161.1,519.0 161.9,519.9 162.7,521.5 163.4,520.9 164.2,520.6 165.0,520.7 165.8,519.5 166.6,520.3 167.4,520.7 168.2,519.5 169.0,520.0 169.7,519.9 170.5,520.1 171.3,520.3 172.1,521.2 172.9,523.3 173.7,523.9 174.5,525.0 175.3,523.6 176.0,521.1 176.8,520.4 177.6,519.6 178.4,519.7 179.2,519.4 180.0,520.1 180.8,519.2 181.6,518.8 182.3,519.4 183.1,517.9 183.9,519.0 184.7,518.9 185.5,519.7 186.3,521.1 187.1,521.4 187.9,521.7 188.6,521.7 189.4,521.2 190.2,521.2 191.0,520.8 191.8,518.9 192.6,518.8 193.4,517.0 194.1,517.3 194.9,517.1 195.7,517.2 196.5,519.3 197.3,517.1 198.1,512.2 198.9,507.3 199.7,502.3 200.4,497.4 201.2,492.5 202.0,487.6 202.8,482.6 203.6,477.7 204.4,472.9 205.2,468.2 206.0,463.7 206.7,459.2 207.5,455.0 208.3,451.0 209.1,447.3 209.9,444.0 210.7,441.0 211.5,438.3 212.3,435.9 213.0,433.9 213.8,432.1 214.6,430.6 215.4,429.2 216.2,428.0 217.0,427.0 217.8,426.0 218.6,425.0 219.3,424.1 220.1,423.2 220.9,422.2 221.7,421.3 222.5,420.4 223.3,419.6 224.1,418.8 224.9,418.0 225.6,417.4 226.4,416.7 227.2,416.1 228.0,415.5 228.8,415.0 229.6,414.4 230.4,413.9 231.1,413.5 231.9,413.0 232.7,412.6 233.5,412.2 234.3,411.9 235.1,411.5 235.9,411.2 236.7,410.9 237.4,410.7 238.2,410.4 239.0,410.1 239.8,409.9 240.6,409.6 241.4,409.3 242.2,409.1 243.0,408.8 243.7,408.5 244.5,408.3 245.3,408.0 246.1,407.8 246.9,407.5 247.7,407.2 248.5,407.0 249.3,406.7 250.0,406.5 250.8,406.3 251.6,406.0 252.4,405.8 253.2,405.6 254.0,405.3 254.8,405.1 255.6,404.9 256.3,404.7 257.1,404.5 257.9,404.3 258.7,404.1 259.5,403.9 260.3,403.7 261.1,403.5 261.8,403.3 262.6,403.1 263.4,402.9 264.2,402.8 265.0,402.6 265.8,402.4 266.6,402.2 267.4,402.1 268.1,401.9 268.9,401.7 269.7,401.6 270.5,401.4 271.3,401.3 272.1,401.1 272.9,401.0 273.7,400.8 274.4,400.7 275.2,400.6 276.0,400.4 276.8,400.3 277.6,400.2 278.4,400.1 279.2,400.0 280.0,399.9 280.7,399.8 281.5,399.7 282.3,399.6 283.1,399.5 283.9,399.4 284.7,399.3 285.5,399.2 286.3,399.1 287.0,399.0 287.8,398.9 288.6,398.8 289.4,398.8 290.2,398.7 291.0,398.6 291.8,398.5 292.5,398.4 293.3,398.3 294.1,398.3 294.9,398.2 295.7,398.1 296.5,398.0 297.3,397.9 298.1,397.8 298.8,397.8 299.6,397.7 300.4,397.6 301.2,397.5 302.0,397.5 302.8,397.4 303.6,397.3 304.4,397.2 305.1,397.2 305.9,397.1 306.7,397.0 307.5,396.9 308.3,396.9 309.1,396.8 309.9,396.7 310.7,396.7 311.4,396.6 312.2,396.5 313.0,396.5 313.8,396.4 314.6,396.3 315.4,396.3 316.2,396.2 317.0,396.1 317.7,396.1 318.5,396.0 319.3,395.9 320.1,395.8"/>
<polyline stroke="#3366e0" points="68.2,521.4 69.0,518.8 69.8,519.5 70.6,519.6 71.3,517.5 72.1,519.1 72.9,518.4 73.7,520.7 74.5,522.1 75.3,522.1 76.1,523.0 76.9,521.7 77.6,522.6 78.4,522.2 79.2,521.2 80.0,521.1 80.8,519.5 81.6,520.5 82.4,521.6 83.2,521.2 83.9,520.9 84.7,520.5 85.5,518.8 86.3,518.6 87.1,519.1 87.9,519.2 88.7,520.6 89.5,521.5 90.2,520.3 91.0,520.9 91.8,520.4 92.6,519.0 93.4,520.6 94.2,519.9 95.0,519.6 95.8,520.2 96.5,519.1 97.3,520.1 98.1,522.0 98.9,522.1 99.7,523.1 100.5,521.9 101.3,520.1 102.0,520.3 102.8,519.6 103.6,519.3 104.4,518.7 105.2,518.0 106.0,517.7 106.8,518.9 107.6,519.8 108.3,519.7 109.1,520.1 109.9,519.6 110.7,520.4 111.5,522.0 112.3,523.1 113.1,523.6 113.9,521.9 114.6,519.8 115.4,519.3 116.2,520.1 117.0,520.5 117.8,521.0 118.6,521.3 119.4,519.4 120.2,519.9 120.9,519.3 121.7,518.0 122.5,518.2 123.3,518.0 124.1,519.7 124.9,520.1 125.7,521.2 126.5,520.9 127.2,520.9 128.0,521.8 128.8,520.8 129.6,520.6 130.4,518.9 131.2,517.0 132.0,518.6 132.7,519.9 133.5,521.3 134.3,522.1 135.1,522.6 135.9,522.1 136.7,521.5 137.5,522.2 138.3,520.5 139.0,519.7 139.8,519.8 140.6,518.4 141.4,517.8 142.2,518.3 143.0,518.1 143.8,519.1 144.6,518.9 145.3,519.6 146.1,520.3 146.9,519.6 147.7,521.0 148.5,520.3 149.3,519.1 150.1,519.5 150.9,518.9 151.6,518.6 152.4,518.8 153.2,520.0 154.0,521.0 154.8,520.7 155.6,520.9 156.4,521.3 157.2,521.3 157.9,522.3 158.7,523.3 159.5,521.4 160.3,520.4 161.1,520.1 161.9,520.2 162.7,520.1 163.4,518.7 164.2,519.7 165.0,517.9 165.8,517.6 166.6,518.6 167.4,518.0 168.2,519.8 169.0,521.1 169.7,521.1 170.5,520.3 171.3,518.6 172.1,517.3 172.9,517.2 173.7,518.2 174.5,519.9 175.3,520.5 176.0,520.8 176.8,520.4 177.6,520.6 178.4,521.1 179.2,522.5 180.0,522.5 180.8,522.2 181.6,521.9 182.3,520.6 183.1,520.6 183.9,518.9 184.7,519.6 185.5,521.4 186.3,520.8 187.1,520.8 187.9,518.9 188.6,517.2 189.4,517.5 190.2,518.4 191.0,520.3 191.8,520.9 192.6,521.0 193.4,521.5 194.1,519.2 194.9,519.9 195.7,520.5 196.5,519.3 197.3,521.1 198.1,520.8 198.9,518.8 199.7,513.9 200.4,509.0 201.2,504.1 202.0,499.2 202.8,494.2 203.6,489.3 204.4,484.4 205.2,479.4 206.0,474.6 206.7,469.9 207.5,465.3 208.3,460.8 209.1,456.5 209.9,452.4 210.7,448.5 211.5,445.1 212.3,442.0 213.0,439.2 213.8,436.7 214.6,434.6 215.4,432.7 216.2,431.1 217.0,429.7 217.8,428.4 218.6,427.3 219.3,426.3 220.1,425.4 220.9,424.4 221.7,423.5 222.5,422.6 223.3,421.6 224.1,420.7 224.9,419.9 225.6,419.1 226.4,418.3 227.2,417.6 228.0,417.0 228.8,416.3 229.6,415.7 230.4,415.2 231.1,414.6 231.9,414.1 232.7,413.6 233.5,413.2 234.3,412.7 235.1,412.3 235.9,412.0 236.7,411.7 237.4,411.3 238.2,411.0 239.0,410.8 239.8,410.5 240.6,410.2 241.4,410.0 242.2,409.7 243.0,409.4 243.7,409.2 244.5,408.9 245.3,408.6 246.1,408.4 246.9,408.1 247.7,407.8 248.5,407.6 249.3,407.3 250.0,407.1 250.8,406.8 251.6,406.6 252.4,406.3 253.2,406.1 254.0,405.9 254.8,405.6 255.6,405.4 256.3,405.2 257.1,405.0 257.9,404.8 258.7,404.6 259.5,404.4 260.3,404.2 261.1,404.0 261.8,403.8 262.6,403.6 263.4,403.4 264.2,403.2 265.0,403.0 265.8,402.8 266.6,402.6 267.4,402.5 268.1,402.3 268.9,402.1 269.7,401.9 270.5,401.8 271.3,401.6 272.1,401.5 272.9,401.3 273.7,401.2 274.4,401.0 275.2,400.9 276.0,400.7 276.8,400.6 277.6,400.5 278.4,400.4 279.2,400.2 280.0,400.1 280.7,400.0 281.5,399.9 282.3,399.8 283.1,399.7 283.9,399.6 284.7,399.5 285.5,399.4 286.3,399.3 287.0,399.2 287.8,399.1 288.6,399.0 289.4,399.0 290.2,398.9 291.0,398.8 291.8,398.7 292.5,398.6 293.3,398.5 294.1,398.5 294.9,398.4 295.7,398.3 296.5,398.2 297.3,398.1 298.1,398.0 298.8,398.0 299.6,397.9 300.4,397.8 301.2,397.7 302.0,397.6 302.8,397.6 303.6,397.5 304.4,397.4 305.1,397.3 305.9,397.3 306.7,397.2 307.5,397.1 308.3,397.0 309.1,397.0 309.9,396.9 310.7,396.8 311.4,396.7 312.2,396.7 313.0,396.6 313.8,396.5 314.6,396.5 315.4,396.4 316.2,396.3 317.0,396.3 317.7,396.2 318.5,396.2 319.3,396.1 320.1,396.0"/>
<polyline stroke="#1238c8" points="68.2,518.9 69.0,519.5 69.8,518.7 70.6,517.1 71.3,518.1 72.1,518.1 72.9,519.1 73.7,521.3 74.5,520.3 75.3,520.3 76.1,520.4 76.9,520.6 77.6,521.6 78.4,521.0 79.2,520.7 80.0,519.6 80.8,519.9 81.6,520.2 82.4,519.3 83.2,519.4 83.9,519.3 84.7,519.7 85.5,519.7 86.3,521.1 87.1,520.6 87.9,520.2 88.7,519.8 89.5,518.9 90.2,519.2 91.0,519.4 91.8,520.7 92.6,520.8 93.4,520.4 94.2,520.3 95.0,520.5 95.8,520.6 96.5,522.4 97.3,522.0 98.1,521.7 98.9,521.3 99.7,520.6 100.5,521.2 101.3,520.5 102.0,520.0 102.8,520.2 103.6,519.5 104.4,520.0 105.2,521.2 106.0,519.9 106.8,520.7 107.6,520.8 108.3,520.8 109.1,520.9 109.9,520.7 110.7,520.6 111.5,520.8 112.3,521.3 113.1,521.1 113.9,520.1 114.6,519.4 115.4,518.1 116.2,518.4 117.0,520.0 117.8,519.6 118.6,521.2 119.4,520.9 120.2,519.4 120.9,520.1 121.7,519.5 122.5,518.0 123.3,518.6 124.1,518.2 124.9,517.6 125.7,519.4 126.5,519.6 127.2,519.5 128.0,521.7 128.8,520.7 129.6,521.4 130.4,522.4 131.2,520.3 132.0,521.3 132.7,521.4 133.5,520.5 134.3,521.7 135.1,522.2 135.9,522.4 136.7,523.1 137.5,522.0 138.3,521.5 139.0,520.2 139.8,519.0 140.6,519.3 141.4,519.8 142.2,520.2 143.0,519.7 143.8,519.7 144.6,519.0 145.3,518.9 146.1,519.9 146.9,519.6 147.7,519.8 148.5,519.9 149.3,520.6 150.1,521.5 150.9,521.2 151.6,520.5 152.4,519.4 153.2,518.7 154.0,519.6 154.8,519.7 155.6,519.9 156.4,521.0 157.2,519.8 157.9,519.9 158.7,519.1 159.5,518.9 160.3,520.3 161.1,520.2 161.9,522.6 162.7,522.3 163.4,522.2 164.2,523.4 165.0,523.5 165.8,523.2 166.6,521.7 167.4,520.7 168.2,519.1 169.0,519.2 169.7,518.8 170.5,518.8 171.3,518.3 172.1,519.2 172.9,519.9 173.7,521.1 174.5,521.6 175.3,520.4 176.0,521.4 176.8,520.5 177.6,519.9 178.4,519.7 179.2,518.5 180.0,519.2 180.8,520.5 181.6,521.6 182.3,521.9 183.1,520.5 183.9,519.7 184.7,518.9 185.5,519.8 186.3,520.3 187.1,520.8 187.9,522.1 188.6,522.5 189.4,523.1 190.2,523.5 191.0,521.1 191.8,519.8 192.6,520.3 193.4,520.0 194.1,520.1 194.9,520.8 195.7,519.5 196.5,518.9 197.3,519.0 198.1,517.9 198.9,518.7 199.7,518.7 200.4,519.1 201.2,514.2 202.0,509.3 202.8,504.4 203.6,499.4 204.4,494.5 205.2,489.6 206.0,484.7 206.7,479.7 207.5,474.8 208.3,470.1 209.1,465.6 209.9,461.1 210.7,456.7 211.5,452.6 212.3,448.7 213.0,445.3 213.8,442.2 214.6,439.3 215.4,436.8 216.2,434.7 217.0,432.8 217.8,431.2 218.6,429.8 219.3,428.5 220.1,427.4 220.9,426.4 221.7,425.4 222.5,424.5 223.3,423.6 224.1,422.6 224.9,421.7 225.6,420.8 226.4,419.9 227.2,419.1 228.0,418.3 228.8,417.6 229.6,417.0 230.4,416.4 231.1,415.8 231.9,415.2 232.7,414.7 233.5,414.1 234.3,413.7 235.1,413.2 235.9,412.8 236.7,412.4 237.4,412.0 238.2,411.7 239.0,411.4 239.8,411.1 240.6,410.8 241.4,410.5 242.2,410.2 243.0,410.0 243.7,409.7 244.5,409.5 245.3,409.2 246.1,408.9 246.9,408.7 247.7,408.4 248.5,408.1 249.3,407.9 250.0,407.6 250.8,407.3 251.6,407.1 252.4,406.8 253.2,406.6 254.0,406.4 254.8,406.1 255.6,405.9 256.3,405.7 257.1,405.4 257.9,405.2 258.7,405.0 259.5,404.8 260.3,404.6 261.1,404.4 261.8,404.2 262.6,404.0 263.4,403.8 264.2,403.6 265.0,403.4 265.8,403.2 266.6,403.0 267.4,402.8 268.1,402.7 268.9,402.5 269.7,402.3 270.5,402.1 271.3,402.0 272.1,401.8 272.9,401.6 273.7,401.5 274.4,401.3 275.2,401.2 276.0,401.0 276.8,400.9 277.6,400.7 278.4,400.6 279.2,400.5 280.0,400.4 280.7,400.3 281.5,400.1 282.3,400.0 283.1,399.9 283.9,399.8 284.7,399.7 285.5,399.6 286.3,399.5 287.0,399.4 287.8,399.3 288.6,399.2 289.4,399.1 290.2,399.1 291.0,399.0 291.8,398.9 292.5,398.8 293.3,398.7 294.1,398.6 294.9,398.5 295.7,398.5 296.5,398.4 297.3,398.3 298.1,398.2 298.8,398.1 299.6,398.0 300.4,398.0 301.2,397.9 302.0,397.8 302.8,397.7 303.6,397.6 304.4,397.6 305.1,397.5 305.9,397.4 306.7,397.3 307.5,397.3 308.3,397.2 309.1,397.1 309.9,397.0 310.7,397.0 311.4,396.9 312.2,396.8 313.0,396.8 313.8,396.7 314.6,396.6 315.4,396.5 316.2,396.5 317.0,396.4 317.7,396.3 318.5,396.3 319.3,396.2 320.1,396.2"/>
<polyline stroke="#0c0c70" points="68.2,521.1 69.0,521.3 69.8,520.6 70.6,518.6 71.3,518.9 72.1,519.2 72.9,520.9 73.7,521.5 74.5,521.4 75.3,521.7 76.1,520.0 76.9,521.0 77.6,521.3 78.4,519.6 79.2,519.3 80.0,518.1 80.8,517.2 81.6,518.1 82.4,518.4 83.2,517.6 83.9,518.1 84.7,518.0 85.5,518.3 86.3,520.0 87.1,521.6 87.9,523.3 88.7,522.2 89.5,521.0 90.2,519.7 91.0,518.4 91.8,519.0 92.6,520.7 93.4,519.2 94.2,519.9 95.0,520.8 95.8,521.9 96.5,522.1 97.3,521.4 98.1,519.8 98.9,518.7 99.7,519.4 100.5,519.4 101.3,520.4 102.0,518.4 102.8,517.1 103.6,516.2 104.4,516.6 105.2,517.4 106.0,518.0 106.8,518.6 107.6,517.9 108.3,518.2 109.1,519.7 109.9,519.9 110.7,519.2 111.5,520.2 112.3,519.5 113.1,519.1 113.9,521.1 114.6,520.5 115.4,521.7 116.2,522.6 117.0,522.6 117.8,523.1 118.6,522.4 119.4,522.1 120.2,521.4 120.9,522.3 121.7,521.0 122.5,521.0 123.3,521.6 124.1,520.4 124.9,521.3 125.7,521.7 126.5,521.3 127.2,521.2 128.0,521.0 128.8,520.9 129.6,520.3 130.4,519.8 131.2,520.2 132.0,518.9 132.7,519.2 133.5,520.2 134.3,519.9 135.1,520.6 135.9,520.7 136.7,519.8 137.5,518.4 138.3,518.3 139.0,518.0 139.8,518.3 140.6,519.0 141.4,519.2 142.2,520.0 143.0,520.7 143.8,521.2 144.6,520.6 145.3,521.2 146.1,520.8 146.9,520.8 147.7,520.6 148.5,520.4 149.3,520.2 150.1,520.1 150.9,521.1 151.6,520.5 152.4,520.6 153.2,522.0 154.0,521.6 154.8,521.1 155.6,521.7 156.4,520.8 157.2,520.1 157.9,520.2 158.7,518.6 159.5,519.0 160.3,518.9 161.1,519.5 161.9,518.9 162.7,518.8 163.4,520.2 164.2,520.3 165.0,521.8 165.8,521.8 166.6,521.8 167.4,521.4 168.2,520.7 169.0,519.8 169.7,519.6 170.5,518.6 171.3,519.7 172.1,520.9 172.9,521.4 173.7,521.8 174.5,522.2 175.3,522.4 176.0,520.9 176.8,520.1 177.6,518.2 178.4,518.3 179.2,519.1 180.0,519.7 180.8,520.5 181.6,520.6 182.3,520.8 183.1,522.5 183.9,523.4 184.7,520.9 185.5,520.2 186.3,520.1 187.1,520.3 187.9,521.4 188.6,522.2 189.4,520.9 190.2,520.3 191.0,520.8 191.8,520.2 192.6,521.3 193.4,522.1 194.1,522.7 194.9,523.4 195.7,522.8 196.5,521.6 197.3,520.9 198.1,520.1 198.9,520.5 199.7,519.6 200.4,518.2 201.2,518.3 202.0,514.9 202.8,509.9 203.6,505.0 204.4,500.1 205.2,495.2 206.0,490.3 206.7,485.3 207.5,480.4 208.3,475.5 209.1,470.8 209.9,466.2 210.7,461.7 211.5,457.3 212.3,453.2 213.0,449.3 213.8,445.7 214.6,442.6 215.4,439.7 216.2,437.2 217.0,435.0 217.8,433.1 218.6,431.4 219.3,429.9 220.1,428.7 220.9,427.5 221.7,426.5 222.5,425.5 223.3,424.6 224.1,423.7 224.9,422.7 225.6,421.8 226.4,420.9 227.2,420.0 228.0,419.2 228.8,418.4 229.6,417.7 230.4,417.1 231.1,416.5 231.9,415.9 232.7,415.3 233.5,414.7 234.3,414.2 235.1,413.7 235.9,413.3 236.7,412.8 237.4,412.4 238.2,412.1 239.0,411.7 239.8,411.4 240.6,411.1 241.4,410.8 242.2,410.5 243.0,410.3 243.7,410.0 244.5,409.8 245.3,409.5 246.1,409.2 246.9,409.0 247.7,408.7 248.5,408.4 249.3,408.2 250.0,407.9 250.8,407.6 251.6,407.4 252.4,407.1 253.2,406.9 254.0,406.6 254.8,406.4 255.6,406.2 256.3,405.9 257.1,405.7 257.9,405.5 258.7,405.2 259.5,405.0 260.3,404.8 261.1,404.6 261.8,404.4 262.6,404.2 263.4,404.0 264.2,403.8 265.0,403.6 265.8,403.4 266.6,403.2 267.4,403.1 268.1,402.9 268.9,402.7 269.7,402.5 270.5,402.3 271.3,402.1 272.1,402.0 272.9,401.8 273.7,401.6 274.4,401.5 275.2,401.3 276.0,401.2 276.8,401.0 277.6,400.9 278.4,400.8 279.2,400.6 280.0,400.5 280.7,400.4 281.5,400.3 282.3,400.2 283.1,400.0 283.9,399.9 284.7,399.8 285.5,399.7 286.3,399.6 287.0,399.5 287.8,399.4 288.6,399.3 289.4,399.2 290.2,399.2 291.0,399.1 291.8,399.0 292.5,398.9 293.3,398.8 294.1,398.7 294.9,398.6 295.7,398.5 296.5,398.5 297.3,398.4 298.1,398.3 298.8,398.2 299.6,398.1 300.4,398.1 301.2,398.0 302.0,397.9 302.8,397.8 303.6,397.7 304.4,397.7 305.1,397.6 305.9,397.5 306.7,397.4 307.5,397.3 308.3,397.3 309.1,397.2 309.9,397.1 310.7,397.0 311.4,397.0 312.2,396.9 313.0,396.8 313.8,396.8 314.6,396.7 315.4,396.6 316.2,396.6 317.0,396.5 317.7,396.4 318.5,396.4 319.3,396.3 320.1,396.2"/>
</g>
<path d="M68.2 538.8V322.7H320.1" stroke="#111" stroke-width="1.3" fill="none"/>
<path d="M68.2 538.8H320.1" stroke="#222" stroke-width="1.1" fill="none"/>
<path d="M320.1 322.7V538.8" stroke="#111" stroke-width="1.1" fill="none"/>
<path d="M68.2 538.5h4.5 M68.2 532h2.5 M68.2 528.2h2.5 M68.2 525.51h2.5 M68.2 523.42h2.5 M68.2 521.71h2.5 M68.2 520.26h2.5 M68.2 519.01h2.5 M68.2 517.91h2.5 M68.2 516.92h4.5 M68.2 510.42h2.5 M68.2 506.62h2.5 M68.2 503.93h2.5 M68.2 501.84h2.5 M68.2 500.13h2.5 M68.2 498.68h2.5 M68.2 497.43h2.5 M68.2 496.33h2.5 M68.2 495.34h4.5 M68.2 488.84h2.5 M68.2 485.04h2.5 M68.2 482.35h2.5 M68.2 480.26h2.5 M68.2 478.55h2.5 M68.2 477.1h2.5 M68.2 475.85h2.5 M68.2 474.75h2.5 M68.2 473.76h4.5 M68.2 467.26h2.5 M68.2 463.46h2.5 M68.2 460.77h2.5 M68.2 458.68h2.5 M68.2 456.97h2.5 M68.2 455.52h2.5 M68.2 454.27h2.5 M68.2 453.17h2.5 M68.2 452.18h4.5 M68.2 445.68h2.5 M68.2 441.88h2.5 M68.2 439.19h2.5 M68.2 437.1h2.5 M68.2 435.39h2.5 M68.2 433.94h2.5 M68.2 432.69h2.5 M68.2 431.59h2.5 M68.2 430.6h4.5 M68.2 424.1h2.5 M68.2 420.3h2.5 M68.2 417.61h2.5 M68.2 415.52h2.5 M68.2 413.81h2.5 M68.2 412.36h2.5 M68.2 411.11h2.5 M68.2 410.01h2.5 M68.2 409.02h4.5 M68.2 402.52h2.5 M68.2 398.72h2.5 M68.2 396.03h2.5 M68.2 393.94h2.5 M68.2 392.23h2.5 M68.2 390.78h2.5 M68.2 389.53h2.5 M68.2 388.43h2.5 M68.2 387.44h4.5 M68.2 380.94h2.5 M68.2 377.14h2.5 M68.2 374.45h2.5 M68.2 372.36h2.5 M68.2 370.65h2.5 M68.2 369.2h2.5 M68.2 367.95h2.5 M68.2 366.85h2.5 M68.2 365.86h4.5 M68.2 359.36h2.5 M68.2 355.56h2.5 M68.2 352.87h2.5 M68.2 350.78h2.5 M68.2 349.07h2.5 M68.2 347.62h2.5 M68.2 346.37h2.5 M68.2 345.27h2.5 M68.2 344.28h4.5 M68.2 337.78h2.5 M68.2 333.98h2.5 M68.2 331.29h2.5 M68.2 329.2h2.5 M68.2 327.49h2.5 M68.2 326.04h2.5 M68.2 324.79h2.5 M68.2 323.69h2.5 M68.2 322.7h4.5 M68.2 538.5v-4.5 M99.69 538.5v-2.5 M131.18 538.5v-4.5 M162.66 538.5v-2.5 M194.15 538.5v-4.5 M225.64 538.5v-2.5 M257.12 538.5v-4.5 M288.61 538.5v-2.5 M320.1 538.5v-4.5" stroke="#000" stroke-width="1.1" fill="none"/>
<text transform="translate(62.9,329.4) scale(0.92,1)" text-anchor="end" font-size="18">10<tspan font-size="10.5" dy="-9" dx="0.3">-4</tspan></text>
<text transform="translate(62.9,372.76) scale(0.92,1)" text-anchor="end" font-size="18">10<tspan font-size="10.5" dy="-9" dx="0.3">-6</tspan></text>
<text transform="translate(62.9,416.12) scale(0.92,1)" text-anchor="end" font-size="18">10<tspan font-size="10.5" dy="-9" dx="0.3">-8</tspan></text>
<text transform="translate(62.9,459.48) scale(0.92,1)" text-anchor="end" font-size="18">10<tspan font-size="10.5" dy="-9" dx="0.3">-10</tspan></text>
<text transform="translate(62.9,502.84) scale(0.92,1)" text-anchor="end" font-size="18">10<tspan font-size="10.5" dy="-9" dx="0.3">-12</tspan></text>
<text transform="translate(62.9,546.2) scale(0.92,1)" text-anchor="end" font-size="18">10<tspan font-size="10.5" dy="-9" dx="0.3">-14</tspan></text>
<text transform="translate(67.8,557.5) scale(0.92,1)" text-anchor="middle" font-size="18">-4</text>
<text transform="translate(130.78,557.5) scale(0.92,1)" text-anchor="middle" font-size="18">-2</text>
<text transform="translate(193.75,557.5) scale(0.92,1)" text-anchor="middle" font-size="18">0</text>
<text transform="translate(256.73,557.5) scale(0.92,1)" text-anchor="middle" font-size="18">2</text>
<text transform="translate(319.7,557.5) scale(0.92,1)" text-anchor="middle" font-size="18">4</text>
<text transform="translate(17.4,427.9) rotate(-90)" text-anchor="middle" font-size="24">I<tspan font-size="14" dy="9.4">D</tspan><tspan dy="-9.4"> [A]</tspan></text>
<text transform="translate(167.8,581.1) scale(0.92,1)" font-size="24">V</text>
<text transform="translate(183.5,590.9) scale(0.92,1)" font-size="14.5">G</text>
<text transform="translate(202,581.1) scale(0.92,1)" font-size="24">[V]</text>
<text x="77.2" y="342.2" font-size="14">W = 10 µm, L = 20 µm</text>
<text x="77.2" y="360.2" font-size="14">V<tspan font-size="9" dy="5.5">D</tspan><tspan dy="-5.5"> = 0.1 V</tspan></text>
<text x="77.8" y="387.6" font-size="11.6" font-weight="bold">Stress condition</text>
<text x="77.8" y="402.3" font-size="11.8">V<tspan font-size="8" dy="5">OV</tspan><tspan dy="-5"> = 30 V, V</tspan><tspan font-size="8" dy="5">DS</tspan><tspan dy="-5"> = 0 V</tspan></text>
<text x="77.8" y="425.2" font-size="12">Temp. = 60 <tspan font-size="7" dy="-5.5" dx="0.6">o</tspan><tspan dy="5.5" dx="0.2">C</tspan></text>
<text x="77.8" y="459" font-size="11.3">Measurement range</text>
<text x="77.8" y="478.3" font-size="11.5">V<tspan font-size="8" dy="6">G</tspan><tspan dy="-6" dx="-0.5"> = -15 V ~ 15 V</tspan></text>
<text transform="translate(318.2,343) scale(0.95,1)" text-anchor="end" font-size="20.5" font-weight="bold">(c)</text>
<line x1="191.3" y1="432.9" x2="226" y2="432.9" stroke="#101070" stroke-width="1.6"/>
<path d="M234 432.9L224.5 428L224.5 437.8Z" fill="#101070"/>
<text x="234.7" y="438.2" font-size="11.4">Stress time [sec]</text>
<line x1="234.3" y1="448.3" x2="259.7" y2="448.3" stroke="#d9e3f7" stroke-width="2.7" stroke-linecap="round"/>
<text x="263.2" y="452.4" font-size="11.5">0</text>
<line x1="234.3" y1="462.6" x2="259.7" y2="462.6" stroke="#b3c6f1" stroke-width="2.7" stroke-linecap="round"/>
<text x="263.2" y="466.7" font-size="11.5">300</text>
<line x1="234.3" y1="476.9" x2="259.7" y2="476.9" stroke="#8aa6eb" stroke-width="2.7" stroke-linecap="round"/>
<text x="263.2" y="481" font-size="11.5">900</text>
<line x1="234.3" y1="491.2" x2="259.7" y2="491.2" stroke="#3366e0" stroke-width="2.7" stroke-linecap="round"/>
<text x="263.2" y="495.3" font-size="11.5">1800</text>
<line x1="234.3" y1="505.5" x2="259.7" y2="505.5" stroke="#1238c8" stroke-width="2.7" stroke-linecap="round"/>
<text x="263.2" y="509.6" font-size="11.5">2700</text>
<line x1="234.3" y1="519.8" x2="259.7" y2="519.8" stroke="#0c0c70" stroke-width="2.7" stroke-linecap="round"/>
<text x="263.2" y="523.9" font-size="11.5">3600</text>
<clipPath id="clipd"><rect x="413.4" y="322.7" width="254" height="216.7"/></clipPath>
<g clip-path="url(#clipd)">
<path d="M416.6 533.7L431.4 507.5 M440.7 499.8L470.7 490.1 M483.3 486.8L534.0 476.6 M546.8 474.5L597.5 468.1 M610.4 466.7L660.9 462.0" stroke="#f5881f" stroke-width="2" fill="none"/>
<ellipse cx="413.4" cy="539.4" rx="5.1" ry="5.8" fill="url(#spo)"/>
<ellipse cx="434.6" cy="501.8" rx="5.1" ry="5.8" fill="url(#spo)"/>
<ellipse cx="476.9" cy="488.1" rx="5.1" ry="5.8" fill="url(#spo)"/>
<ellipse cx="540.4" cy="475.3" rx="5.1" ry="5.8" fill="url(#spo)"/>
<ellipse cx="603.9" cy="467.3" rx="5.1" ry="5.8" fill="url(#spo)"/>
<ellipse cx="667.4" cy="461.4" rx="5.1" ry="5.8" fill="url(#spo)"/>
<path d="M415.5 533.2L432.5 482.4 M440.0 472.6L471.5 451.3 M483.1 445.8L534.2 430.1 M546.6 426.3L597.7 411.6 M610.3 408.7L661.0 400.7" stroke="#148a14" stroke-width="2" fill="none"/>
<ellipse cx="413.4" cy="539.4" rx="5.1" ry="5.8" fill="url(#spg)"/>
<ellipse cx="434.6" cy="476.2" rx="5.1" ry="5.8" fill="url(#spg)"/>
<ellipse cx="476.9" cy="447.7" rx="5.1" ry="5.8" fill="url(#spg)"/>
<ellipse cx="540.4" cy="428.2" rx="5.1" ry="5.8" fill="url(#spg)"/>
<ellipse cx="603.9" cy="409.7" rx="5.1" ry="5.8" fill="url(#spg)"/>
<ellipse cx="667.4" cy="399.6" rx="5.1" ry="5.8" fill="url(#spg)"/>
<path d="M415.2 533.1L432.8 471.3 M439.9 461.3L471.6 438.9 M483.1 433.1L534.2 415.6 M546.6 411.6L597.7 396.4 M610.3 393.5L661.0 385.2" stroke="#0a0a96" stroke-width="2" fill="none"/>
<ellipse cx="413.4" cy="539.4" rx="5.1" ry="5.8" fill="url(#spbl)"/>
<ellipse cx="434.6" cy="465.0" rx="5.1" ry="5.8" fill="url(#spbl)"/>
<ellipse cx="476.9" cy="435.2" rx="5.1" ry="5.8" fill="url(#spbl)"/>
<ellipse cx="540.4" cy="413.5" rx="5.1" ry="5.8" fill="url(#spbl)"/>
<ellipse cx="603.9" cy="394.6" rx="5.1" ry="5.8" fill="url(#spbl)"/>
<ellipse cx="667.4" cy="384.1" rx="5.1" ry="5.8" fill="url(#spbl)"/>
</g>
<path d="M413.4 539.4V322.7H667.4" stroke="#333" stroke-width="1.1" fill="none"/>
<path d="M413.4 539.4H667.4" stroke="#222" stroke-width="1.2" fill="none"/>
<path d="M667.4 322.7V539.4" stroke="#222" stroke-width="1.2" fill="none"/>
<path d="M413.4 539.4h4.5 M413.4 503.28h2.5 M413.4 467.17h4.5 M413.4 431.05h2.5 M413.4 394.93h4.5 M413.4 358.82h2.5 M413.4 322.7h4.5 M413.4 539.4v-4.5 M445.15 539.4v-2.5 M476.9 539.4v-4.5 M508.65 539.4v-2.5 M540.4 539.4v-4.5 M572.15 539.4v-2.5 M603.9 539.4v-4.5 M635.65 539.4v-2.5 M667.4 539.4v-4.5" stroke="#000" stroke-width="1.1" fill="none"/>
<text transform="translate(408.9,545.1) scale(0.86,1)" text-anchor="end" font-size="17.5">0.0</text>
<text transform="translate(408.9,472.87) scale(0.86,1)" text-anchor="end" font-size="17.5">0.2</text>
<text transform="translate(408.9,400.63) scale(0.86,1)" text-anchor="end" font-size="17.5">0.4</text>
<text transform="translate(408.9,328.4) scale(0.86,1)" text-anchor="end" font-size="17.5">0.6</text>
<text transform="translate(413.4,557.4) scale(0.88,1)" text-anchor="middle" font-size="17">0</text>
<text transform="translate(476.9,557.4) scale(0.88,1)" text-anchor="middle" font-size="17">900</text>
<text transform="translate(540.4,557.4) scale(0.88,1)" text-anchor="middle" font-size="17">1800</text>
<text transform="translate(603.9,557.4) scale(0.88,1)" text-anchor="middle" font-size="17">2700</text>
<text transform="translate(667.4,557.4) scale(0.88,1)" text-anchor="middle" font-size="17">3600</text>
<text transform="translate(546,582) scale(0.875,1)" text-anchor="middle" font-size="23">Time [sec]</text>
<text transform="translate(360.6,430) rotate(-90) scale(1.08,1)" text-anchor="middle" font-size="21">ΔV<tspan font-size="13" dy="6">TH</tspan><tspan dy="-6"> [V]</tspan></text>
<text x="423" y="343.6" font-size="13.8">W = 10 µm</text>
<text x="423" y="367.1" font-size="14.3">L [µm]</text>
<line x1="422.3" y1="382" x2="451.5" y2="382" stroke="#f5881f" stroke-width="2"/>
<ellipse cx="436.8" cy="382" rx="5.1" ry="5.6" fill="url(#spo)"/>
<text transform="translate(455.3,387.5) scale(0.9,1)" font-size="15.5">3</text>
<line x1="466.5" y1="382" x2="495.8" y2="382" stroke="#148a14" stroke-width="2"/>
<ellipse cx="481.1" cy="382" rx="5.1" ry="5.6" fill="url(#spg)"/>
<text transform="translate(500,387.5) scale(0.9,1)" font-size="15.5">12</text>
<line x1="518.5" y1="382" x2="548.3" y2="382" stroke="#0a0a96" stroke-width="2"/>
<ellipse cx="533.2" cy="382" rx="5.1" ry="5.6" fill="url(#spbl)"/>
<text transform="translate(551,387.5) scale(0.9,1)" font-size="15.5">20</text>
<text transform="translate(666.6,342.7) scale(0.86,1)" text-anchor="end" font-size="20" font-weight="bold">(d)</text>
<text transform="translate(564.5,495.2) scale(0.93,1)" font-size="10.8" font-weight="bold">Stress condition</text>
<text transform="translate(564.5,510.2) scale(0.93,1)" font-size="11">V<tspan font-size="7.5" dy="4">OV</tspan><tspan dy="-4"> = 30 V, V</tspan><tspan font-size="7.5" dy="4">DS</tspan><tspan dy="-4"> = 0 V</tspan></text>
<text transform="translate(565,530.5) scale(0.95,1)" font-size="11">Temperature = 60 <tspan font-size="7.5" dy="-4.5" dx="1">o</tspan><tspan dy="4.5">C</tspan></text>
</svg></body></html>
